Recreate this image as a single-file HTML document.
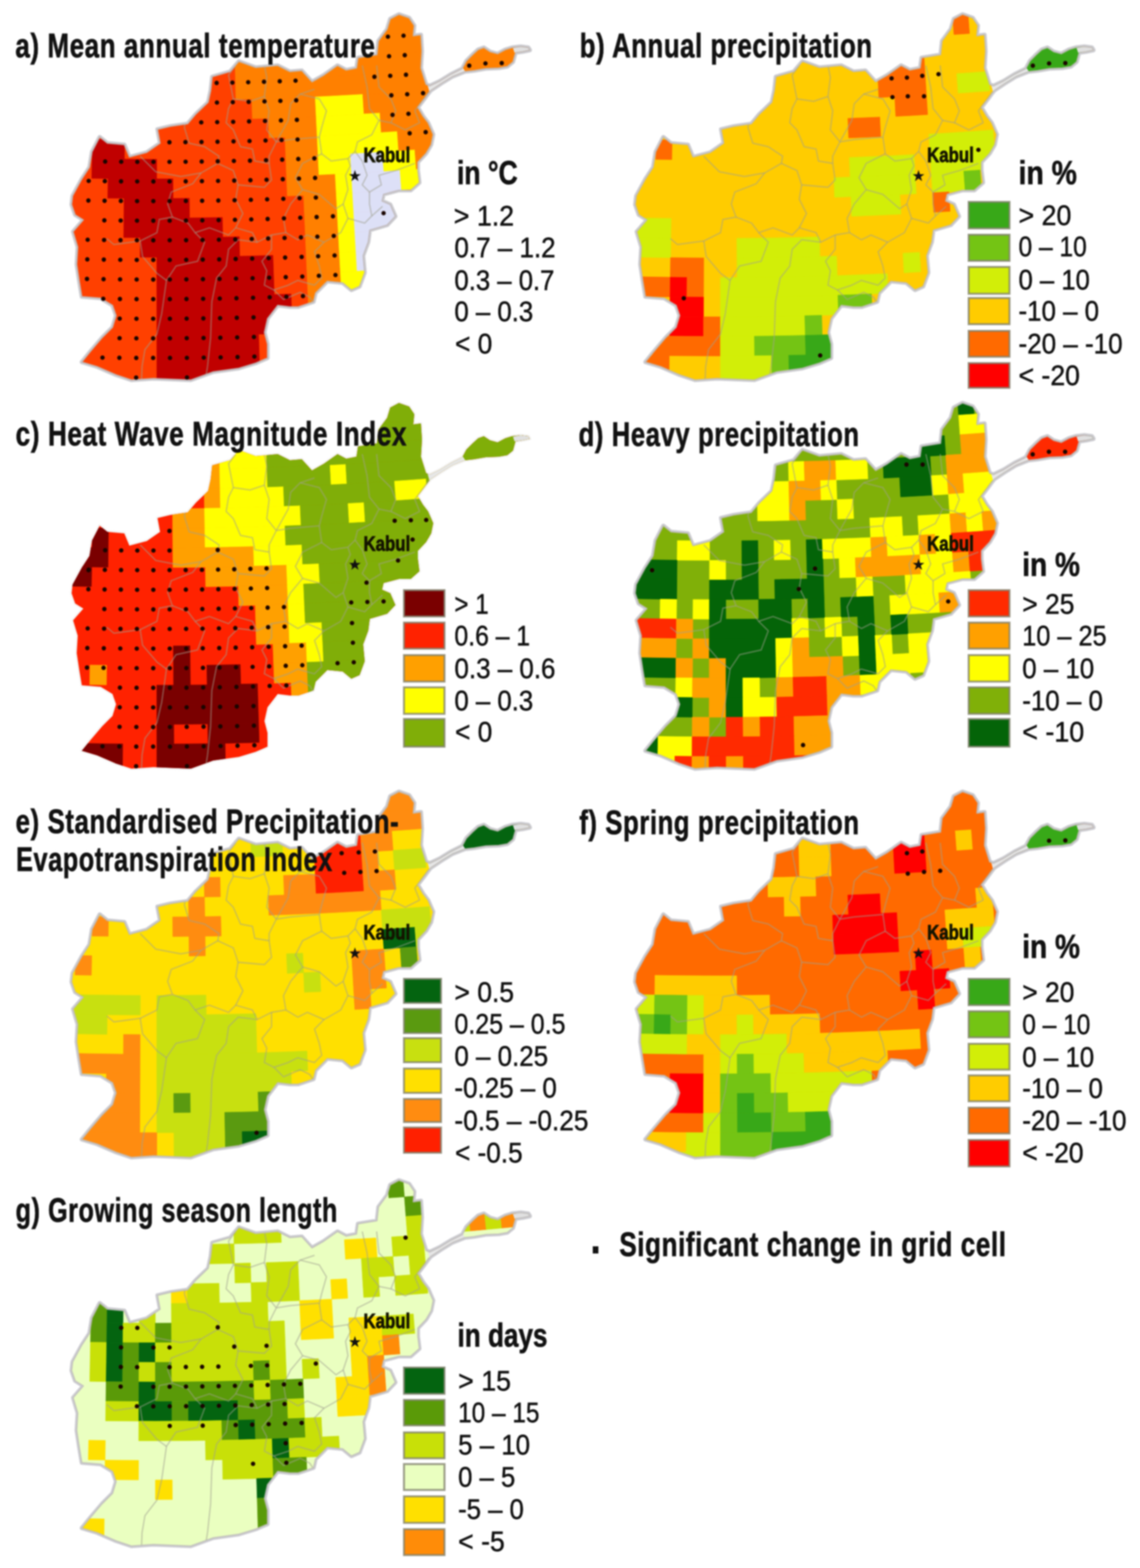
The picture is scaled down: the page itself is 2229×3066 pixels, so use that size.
<!DOCTYPE html>
<html lang="en"><head><meta charset="utf-8"><title>Afghanistan climate projections</title>
<style>html,body{margin:0;padding:0;background:#fff}body{width:2229px;height:3066px;overflow:hidden}svg{display:block;filter:blur(1.6px)}text{font-family:"Liberation Sans",sans-serif;fill:#111}.t{font-weight:700;stroke:#111;stroke-width:1.1px}.r{stroke:#111;stroke-width:0.9px}.k{font-weight:700;fill:#141400;stroke:#141400;stroke-width:1.4px}</style></head><body>
<svg width="2229" height="3066" viewBox="0 0 2229 3066">
<defs><clipPath id="af"><path d="M195,268 L210,280 L243,283 L253,307 L287,298 L313,280 L308,253 L333,247 L367,242 L383,223 L407,200 L412,177 L415,150 L450,140 L467,120 L500,132 L543,128 L567,140 L590,138 L610,160 L633,147 L660,128 L677,137 L697,133 L700,113 L737,107 L740,80 L757,57 L763,37 L780,28 L800,35 L810,50 L808,70 L823,68 L825,100 L823,133 L833,165 L840,168 L860,158.5 L882,145 L904,134 L912,119 L924,107 L935,97 L946,93 L958,101 L973,105 L988,97 L1001,93 L1018,91 L1033,93 L1036,98 L1022,101 L1008,103 L1006,110 L1003,121 L992,130 L975,133 L950,134 L927,138 L909,140 L885,149.5 L863,163 L842,177 L838,182 L830,193 L817,210 L827,227 L837,240 L847,263 L843,283 L833,300 L817,317 L817,333 L820,357 L803,372 L780,372 L750,380 L747,393 L763,400 L773,423 L757,440 L723,450 L720,473 L710,500 L713,533 L703,560 L687,567 L670,553 L640,550 L617,573 L613,590 L583,600 L567,600 L543,597 L523,623 L517,650 L523,673 L523,700 L500,710 L467,720 L417,727 L373,743 L300,740 L257,743 L227,733 L190,717 L160,708 L177,687 L200,660 L220,640 L227,617 L220,597 L197,583 L160,580 L155,550 L150,517 L152,483 L143,453 L163,430 L147,420 L140,400 L142,383 L160,350 L175,327 L180,297Z"/></clipPath>
<path id="ol" d="M195,268 L210,280 L243,283 L253,307 L287,298 L313,280 L308,253 L333,247 L367,242 L383,223 L407,200 L412,177 L415,150 L450,140 L467,120 L500,132 L543,128 L567,140 L590,138 L610,160 L633,147 L660,128 L677,137 L697,133 L700,113 L737,107 L740,80 L757,57 L763,37 L780,28 L800,35 L810,50 L808,70 L823,68 L825,100 L823,133 L833,165 L840,168 L860,158.5 L882,145 L904,134 L912,119 L924,107 L935,97 L946,93 L958,101 L973,105 L988,97 L1001,93 L1018,91 L1033,93 L1036,98 L1022,101 L1008,103 L1006,110 L1003,121 L992,130 L975,133 L950,134 L927,138 L909,140 L885,149.5 L863,163 L842,177 L838,182 L830,193 L817,210 L827,227 L837,240 L847,263 L843,283 L833,300 L817,317 L817,333 L820,357 L803,372 L780,372 L750,380 L747,393 L763,400 L773,423 L757,440 L723,450 L720,473 L710,500 L713,533 L703,560 L687,567 L670,553 L640,550 L617,573 L613,590 L583,600 L567,600 L543,597 L523,623 L517,650 L523,673 L523,700 L500,710 L467,720 L417,727 L373,743 L300,740 L257,743 L227,733 L190,717 L160,708 L177,687 L200,660 L220,640 L227,617 L220,597 L197,583 L160,580 L155,550 L150,517 L152,483 L143,453 L163,430 L147,420 L140,400 L142,383 L160,350 L175,327 L180,297Z"/>
<g id="pv" fill="none" stroke="#a0a090" stroke-width="2.8" stroke-opacity="0.5" stroke-linejoin="round">
<polyline points="274.1,305.5 281.1,312.5 304.4,335.8 353.5,345.1 393.2,338.1 425.8,319.5 428.2,305.5 400.2,286.8 369.8,279.8 360.5,249.4 362.8,235.4"/>
<polyline points="393.2,338.1 376.8,359.2 334.8,375.5 327.8,398.8 337.1,424.5 311.4,429.2 306.8,454.9 274.1,471.2 222.7,478.2 208.7,466.5"/>
<polyline points="337.1,424.5 367.5,436.2 381.5,454.9 409.5,445.5 446.9,459.5 460.9,445.5 493.6,454.9 502.9,473.6 530.9,459.5"/>
<polyline points="425.8,319.5 456.2,333.5 465.5,361.5 516.9,366.2 530.9,352.1 526.2,319.5 498.2,314.8 493.6,291.4 470.2,286.8 456.2,254.1 442.2,240.1 446.9,212.1 456.2,193.4 446.9,146.7 460.9,128"/>
<polyline points="456.2,193.4 488.9,198.1 516.9,188.7 521.6,151.4 516.9,128"/>
<polyline points="516.9,188.7 526.2,216.7 521.6,254.1 540.2,277.4 526.2,305.5 526.2,319.5"/>
<polyline points="540.2,277.4 568.3,272.8 624.3,268.1 629,249.4 638.3,216.7 624.3,193.4 586.9,184 568.3,202.7 563.6,235.4 540.2,277.4"/>
<polyline points="586.9,184 615,174.7"/>
<polyline points="624.3,268.1 629,300.8 647.6,314.8 680.3,310.1 694.3,296.1 699,277.4 727,263.4 741,235.4 722.4,212.1 717.7,170 708.3,128"/>
<polyline points="741,235.4 764.4,240.1 773.7,216.7 764.4,193.4 741,170 736.4,128"/>
<polyline points="764.4,240.1 792.4,254.1 820.4,240.1 811.1,216.7 839.1,179.4"/>
<polyline points="694.3,296.1 708.3,314.8 717.7,342.8 708.3,361.5 722.4,375.5 745.7,361.5 741,342.8 773.7,333.5 811.1,319.5"/>
<polyline points="629,300.8 591.6,319.5 577.6,347.5 591.6,370.8 568.3,398.8 554.3,426.9 558.9,454.9 530.9,459.5"/>
<polyline points="591.6,370.8 624.3,380.2 657,408.2 671,398.8 680.3,370.8 675.7,342.8 685,324.1 680.3,310.1"/>
<polyline points="671,398.8 680.3,426.9 666.3,454.9 633.6,473.6 615,492.2 624.3,520.2 629,543.6 615,557.6 582.3,548.3 563.6,557.6 535.6,566.9 516.9,557.6 521.6,529.6 512.2,510.9 530.9,487.6 530.9,459.5"/>
<polyline points="680.3,426.9 713,436.2 727,422.2 722.4,398.8 722.4,375.5"/>
<polyline points="633.6,473.6 600.9,459.5 582.3,468.9 558.9,454.9"/>
<polyline points="727,422.2 748,403.5"/>
<polyline points="465.5,361.5 460.9,389.5 474.9,417.5 460.9,445.5"/>
<polyline points="502.9,473.6 465.5,468.9 446.9,487.6 442.2,520.2 423.5,543.6 414.2,590.3 411.8,660.3 405.8,716.4 400.2,751.4"/>
<polyline points="381.5,454.9 400.2,473.6 386.2,510.9 344.1,520.2 325.5,548.3 316.1,613.6 306.8,653.3 283.4,683.7 277.8,716.4 276.4,751.4"/>
<polyline points="274.1,471.2 278.8,501.6 306.8,534.3 325.5,548.3"/>
<polyline points="535.6,566.9 554.3,585.6 586.9,571.6 605.6,580.9 615,595"/>
</g>
</defs>
<g transform="translate(0,0)">
<use href="#ol" fill="none" stroke="#cdcdd2" stroke-width="8.5" stroke-linejoin="round"/>
<g clip-path="url(#af)">
<rect x="100" y="0" width="960" height="770" fill="#ff4000"/>
<polygon points="699.8,31.8 730.1,30.1 760.4,28.2 790.7,26.1 820.9,24 851.2,21.7 854.5,59.8 824,62.1 793.6,64.3 763.1,66.3 732.6,68.2 702.2,70" fill="#ff8000" stroke="#ff8000" stroke-width="0.8"/>
<polygon points="702.2,70 732.6,68.2 763.1,66.3 793.6,64.3 824,62.1 854.5,59.8 857.8,97.9 827.1,100.2 796.5,102.4 765.8,104.5 735.2,106.4 704.5,108.2" fill="#ff8000" stroke="#ff8000" stroke-width="0.8"/>
<polygon points="459.4,117.9 490,117.2 520.7,116.3 551.3,115.3 582,114.1 612.6,112.8 643.3,111.4 673.9,109.9 704.5,108.2 735.2,106.4 765.8,104.5 796.5,102.4 827.1,100.2 857.8,97.9 888.4,95.4 919.1,92.9 949.7,90.1 980.4,87.3 1011,84.3 1041.7,81.2 1046,119.1 1015.2,122.2 984.4,125.2 953.5,128.1 922.7,130.9 891.9,133.5 861.1,136 830.2,138.3 799.4,140.6 768.6,142.7 737.8,144.6 706.9,146.4 676.1,148.1 645.3,149.7 614.4,151.1 583.6,152.4 552.8,153.5 522,154.6 491.1,155.5 460.3,156.2" fill="#ff8000" stroke="#ff8000" stroke-width="0.8"/>
<polygon points="460.3,156.2 491.1,155.5 522,154.6 552.8,153.5 583.6,152.4 614.4,151.1 645.3,149.7 676.1,148.1 706.9,146.4 737.8,144.6 768.6,142.7 799.4,140.6 830.2,138.3 861.1,136 891.9,133.5 922.7,130.9 953.5,128.1 984.4,125.2 1015.2,122.2 1046,119.1 1050.4,156.9 1019.4,160.1 988.4,163.2 957.4,166.1 926.4,168.9 895.4,171.5 864.3,174.1 833.3,176.4 802.3,178.7 771.3,180.8 740.3,182.8 709.3,184.6 678.3,186.3 647.3,187.9 616.3,189.4 585.3,190.7 554.3,191.8 523.3,192.9 492.2,193.8 461.2,194.5" fill="#ff8000" stroke="#ff8000" stroke-width="0.8"/>
<polygon points="492.2,193.8 523.3,192.9 554.3,191.8 585.3,190.7 616.3,189.4 618.1,227.6 586.9,228.9 555.7,230.1 524.6,231.2 493.4,232.1" fill="#ff8000" stroke="#ff8000" stroke-width="0.8"/>
<polygon points="616.3,189.4 647.3,187.9 678.3,186.3 709.3,184.6 711.7,222.8 680.5,224.6 649.3,226.2 618.1,227.6" fill="#ffff00" stroke="#ffff00" stroke-width="0.8"/>
<polygon points="709.3,184.6 740.3,182.8 771.3,180.8 802.3,178.7 833.3,176.4 864.3,174.1 895.4,171.5 926.4,168.9 957.4,166.1 988.4,163.2 1019.4,160.1 1050.4,156.9 1054.8,194.8 1023.6,198.1 992.4,201.1 961.2,204.1 930,206.9 898.8,209.6 867.6,212.1 836.4,214.6 805.2,216.8 774.1,219 742.9,221 711.7,222.8" fill="#ff8000" stroke="#ff8000" stroke-width="0.8"/>
<polygon points="524.6,231.2 555.7,230.1 586.9,228.9 618.1,227.6 620,265.9 588.6,267.2 557.2,268.4 525.9,269.5" fill="#ff8000" stroke="#ff8000" stroke-width="0.8"/>
<polygon points="618.1,227.6 649.3,226.2 680.5,224.6 711.7,222.8 742.9,221 745.4,259.2 714.1,261 682.7,262.8 651.3,264.4 620,265.9" fill="#ffff00" stroke="#ffff00" stroke-width="0.8"/>
<polygon points="742.9,221 774.1,219 805.2,216.8 836.4,214.6 867.6,212.1 898.8,209.6 930,206.9 961.2,204.1 992.4,201.1 1023.6,198.1 1054.8,194.8 1059.1,232.7 1027.7,236 996.4,239.1 965,242.1 933.6,244.9 902.3,247.6 870.9,250.2 839.5,252.7 808.2,255 776.8,257.1 745.4,259.2" fill="#ff8000" stroke="#ff8000" stroke-width="0.8"/>
<polygon points="180.8,272 212.2,272.5 243.5,272.8 243.2,311.2 211.7,310.8 180.1,310.4" fill="#c00000" stroke="#c00000" stroke-width="0.8"/>
<polygon points="557.2,268.4 588.6,267.2 620,265.9 621.8,304.1 590.2,305.5 558.7,306.7" fill="#ff8000" stroke="#ff8000" stroke-width="0.8"/>
<polygon points="620,265.9 651.3,264.4 682.7,262.8 714.1,261 745.4,259.2 776.8,257.1 779.5,295.3 748,297.3 716.4,299.2 684.9,301 653.3,302.6 621.8,304.1" fill="#ffff00" stroke="#ffff00" stroke-width="0.8"/>
<polygon points="776.8,257.1 808.2,255 839.5,252.7 870.9,250.2 902.3,247.6 933.6,244.9 965,242.1 996.4,239.1 1027.7,236 1059.1,232.7 1063.5,270.6 1031.9,273.9 1000.4,277 968.8,280.1 937.3,283 905.7,285.7 874.2,288.3 842.6,290.8 811.1,293.1 779.5,295.3" fill="#ff8000" stroke="#ff8000" stroke-width="0.8"/>
<polygon points="180.1,310.4 211.7,310.8 243.2,311.2 274.8,311.3 306.3,311.4 306.3,349.7 274.6,349.7 242.9,349.5 211.2,349.2 179.4,348.7" fill="#c00000" stroke="#c00000" stroke-width="0.8"/>
<polygon points="558.7,306.7 590.2,305.5 621.8,304.1 623.6,342.4 591.9,343.8 560.2,345" fill="#ff8000" stroke="#ff8000" stroke-width="0.8"/>
<polygon points="621.8,304.1 653.3,302.6 684.9,301 687.1,339.2 655.4,340.9 623.6,342.4" fill="#ffff00" stroke="#ffff00" stroke-width="0.8"/>
<polygon points="684.9,301 716.4,299.2 748,297.3 750.5,335.5 718.8,337.4 687.1,339.2" fill="#dde0f7" stroke="#dde0f7" stroke-width="0.8"/>
<polygon points="748,297.3 779.5,295.3 811.1,293.1 814,331.2 782.3,333.4 750.5,335.5" fill="#ffff00" stroke="#ffff00" stroke-width="0.8"/>
<polygon points="811.1,293.1 842.6,290.8 874.2,288.3 905.7,285.7 937.3,283 968.8,280.1 1000.4,277 1031.9,273.9 1063.5,270.6 1067.8,308.5 1036.1,311.8 1004.4,315 972.6,318 940.9,321 909.2,323.7 877.5,326.4 845.7,328.9 814,331.2" fill="#ff8000" stroke="#ff8000" stroke-width="0.8"/>
<polygon points="211.2,349.2 242.9,349.5 274.6,349.7 306.3,349.7 338.1,349.6 338.3,388 306.4,388.1 274.5,388 242.6,387.8 210.7,387.5" fill="#c00000" stroke="#c00000" stroke-width="0.8"/>
<polygon points="560.2,345 591.9,343.8 623.6,342.4 655.4,340.9 657.4,379.1 625.5,380.6 593.6,382 561.7,383.3" fill="#ff8000" stroke="#ff8000" stroke-width="0.8"/>
<polygon points="655.4,340.9 687.1,339.2 689.3,377.5 657.4,379.1" fill="#ffff00" stroke="#ffff00" stroke-width="0.8"/>
<polygon points="687.1,339.2 718.8,337.4 750.5,335.5 782.3,333.4 785,371.6 753.1,373.7 721.2,375.6 689.3,377.5" fill="#dde0f7" stroke="#dde0f7" stroke-width="0.8"/>
<polygon points="782.3,333.4 814,331.2 845.7,328.9 848.8,367 816.9,369.4 785,371.6" fill="#ffff00" stroke="#ffff00" stroke-width="0.8"/>
<polygon points="242.6,387.8 274.5,388 306.4,388.1 338.3,388 370.2,387.7 370.6,426.1 338.5,426.3 306.4,426.4 274.3,426.4 242.2,426.2" fill="#c00000" stroke="#c00000" stroke-width="0.8"/>
<polygon points="593.6,382 625.5,380.6 657.4,379.1 659.4,417.4 627.3,418.9 595.2,420.3" fill="#ff8000" stroke="#ff8000" stroke-width="0.8"/>
<polygon points="657.4,379.1 689.3,377.5 691.5,415.7 659.4,417.4" fill="#ffff00" stroke="#ffff00" stroke-width="0.8"/>
<polygon points="689.3,377.5 721.2,375.6 753.1,373.7 785,371.6 787.8,409.7 755.7,411.9 723.6,413.8 691.5,415.7" fill="#dde0f7" stroke="#dde0f7" stroke-width="0.8"/>
<polygon points="242.2,426.2 274.3,426.4 306.4,426.4 338.5,426.3 370.6,426.1 402.7,425.7 434.8,425.1 435.5,463.5 403.3,464 371,464.4 338.7,464.6 306.5,464.7 274.2,464.7 241.9,464.5" fill="#c00000" stroke="#c00000" stroke-width="0.8"/>
<polygon points="595.2,420.3 627.3,418.9 659.4,417.4 661.4,455.6 629.1,457.2 596.9,458.6" fill="#ff8000" stroke="#ff8000" stroke-width="0.8"/>
<polygon points="659.4,417.4 691.5,415.7 693.7,453.9 661.4,455.6" fill="#ffff00" stroke="#ffff00" stroke-width="0.8"/>
<polygon points="691.5,415.7 723.6,413.8 755.7,411.9 787.8,409.7 790.5,447.9 758.2,450 726,452 693.7,453.9" fill="#dde0f7" stroke="#dde0f7" stroke-width="0.8"/>
<polygon points="274.2,464.7 306.5,464.7 338.7,464.6 371,464.4 403.3,464 435.5,463.5 467.8,462.8 468.7,501.1 436.3,501.8 403.8,502.3 371.4,502.7 338.9,503 306.5,503.1 274,503" fill="#c00000" stroke="#c00000" stroke-width="0.8"/>
<polygon points="596.9,458.6 629.1,457.2 661.4,455.6 663.4,493.8 631,495.4 598.5,496.8" fill="#ff8000" stroke="#ff8000" stroke-width="0.8"/>
<polygon points="661.4,455.6 693.7,453.9 695.9,492.1 663.4,493.8" fill="#ffff00" stroke="#ffff00" stroke-width="0.8"/>
<polygon points="693.7,453.9 726,452 728.3,490.2 695.9,492.1" fill="#dde0f7" stroke="#dde0f7" stroke-width="0.8"/>
<polygon points="306.5,503.1 338.9,503 371.4,502.7 403.8,502.3 436.3,501.8 468.7,501.1 501.2,500.2 533.6,499.3 534.9,537.6 502.3,538.6 469.7,539.4 437,540.1 404.4,540.7 371.8,541.1 339.2,541.3 306.5,541.4" fill="#c00000" stroke="#c00000" stroke-width="0.8"/>
<polygon points="598.5,496.8 631,495.4 663.4,493.8 665.5,532.1 632.8,533.7 600.2,535.1" fill="#ff8000" stroke="#ff8000" stroke-width="0.8"/>
<polygon points="663.4,493.8 695.9,492.1 698.1,530.3 665.5,532.1" fill="#ffff00" stroke="#ffff00" stroke-width="0.8"/>
<polygon points="695.9,492.1 728.3,490.2 730.7,528.4 698.1,530.3" fill="#dde0f7" stroke="#dde0f7" stroke-width="0.8"/>
<polygon points="306.5,541.4 339.2,541.3 371.8,541.1 404.4,540.7 437,540.1 469.7,539.4 502.3,538.6 534.9,537.6 536.2,575.9 503.4,576.9 470.6,577.7 437.8,578.4 405,579 372.2,579.4 339.4,579.7 306.6,579.8" fill="#c00000" stroke="#c00000" stroke-width="0.8"/>
<polygon points="600.2,535.1 632.8,533.7 665.5,532.1 667.5,570.3 634.7,571.9 601.9,573.4" fill="#ff8000" stroke="#ff8000" stroke-width="0.8"/>
<polygon points="665.5,532.1 698.1,530.3 730.7,528.4 733.1,566.6 700.3,568.5 667.5,570.3" fill="#ffff00" stroke="#ffff00" stroke-width="0.8"/>
<polygon points="306.6,579.8 339.4,579.7 372.2,579.4 405,579 437.8,578.4 470.6,577.7 503.4,576.9 536.2,575.9 569,574.7 570.5,613 537.5,614.2 504.5,615.2 471.5,616 438.6,616.8 405.6,617.3 372.6,617.7 339.6,618 306.6,618.1" fill="#c00000" stroke="#c00000" stroke-width="0.8"/>
<polygon points="601.9,573.4 634.7,571.9 636.5,610.2 603.5,611.7" fill="#ff8000" stroke="#ff8000" stroke-width="0.8"/>
<polygon points="667.5,570.3 700.3,568.5 702.5,606.8 669.5,608.5" fill="#ffff00" stroke="#ffff00" stroke-width="0.8"/>
<polygon points="306.6,618.1 339.6,618 372.6,617.7 405.6,617.3 438.6,616.8 471.5,616 504.5,615.2 537.5,614.2 538.8,652.4 505.7,653.5 472.5,654.4 439.3,655.1 406.1,655.7 373,656.1 339.8,656.3 306.6,656.4" fill="#c00000" stroke="#c00000" stroke-width="0.8"/>
<polygon points="306.6,656.4 339.8,656.3 373,656.1 406.1,655.7 439.3,655.1 472.5,654.4 505.7,653.5 506.8,691.8 473.4,692.7 440.1,693.4 406.7,694 373.4,694.4 340,694.7 306.7,694.8" fill="#c00000" stroke="#c00000" stroke-width="0.8"/>
<polygon points="306.7,694.8 340,694.7 373.4,694.4 406.7,694 440.1,693.4 473.4,692.7 506.8,691.8 507.9,730.1 474.4,731 440.8,731.7 407.3,732.3 373.8,732.7 340.2,733 306.7,733.1" fill="#c00000" stroke="#c00000" stroke-width="0.8"/>
<polygon points="306.7,733.1 340.2,733 373.8,732.7 407.3,732.3 407.9,770.6 374.2,771.1 340.5,771.3 306.7,771.5" fill="#c00000" stroke="#c00000" stroke-width="0.8"/>
<polygon points="306.7,771.5 340.5,771.3 374.2,771.1 407.9,770.6 408.5,809 374.6,809.4 340.7,809.7 306.8,809.8" fill="#c00000" stroke="#c00000" stroke-width="0.8"/>
<use href="#pv"/>
<polygon points="836,166 860,156 904,131 911,142 863,166 840,181" fill="#e6e6e6"/>
<polygon points="1003,94 1018,91 1033,93 1036,98 1022,101 1006,103" fill="#e0e0e0"/>
</g>
<use href="#ol" fill="none" stroke="#bcb8b8" stroke-width="2.6" stroke-opacity="0.75" stroke-linejoin="round"/>
<g fill="#1a0500"><circle cx="758.5" cy="71.8" r="4.3"/><circle cx="789" cy="69.8" r="4.3"/><circle cx="760.7" cy="110" r="4.3"/><circle cx="791.4" cy="107.9" r="4.3"/><circle cx="423.6" cy="162.1" r="4.3"/><circle cx="454.4" cy="161.5" r="4.3"/><circle cx="485.3" cy="160.8" r="4.3"/><circle cx="516.2" cy="159.9" r="4.3"/><circle cx="547" cy="158.9" r="4.3"/><circle cx="577.9" cy="157.8" r="4.3"/><circle cx="732.1" cy="150.1" r="4.3"/><circle cx="763" cy="148.2" r="4.3"/><circle cx="793.8" cy="146.1" r="4.3"/><circle cx="424.2" cy="200.5" r="4.3"/><circle cx="455.2" cy="199.8" r="4.3"/><circle cx="486.2" cy="199.1" r="4.3"/><circle cx="517.2" cy="198.2" r="4.3"/><circle cx="548.2" cy="197.2" r="4.3"/><circle cx="579.2" cy="196.1" r="4.3"/><circle cx="765.2" cy="186.4" r="4.3"/><circle cx="796.2" cy="184.3" r="4.3"/><circle cx="827.2" cy="182.1" r="4.3"/><circle cx="393.5" cy="239.3" r="4.3"/><circle cx="424.7" cy="238.8" r="4.3"/><circle cx="455.9" cy="238.2" r="4.3"/><circle cx="487" cy="237.4" r="4.3"/><circle cx="518.2" cy="236.5" r="4.3"/><circle cx="549.3" cy="235.5" r="4.3"/><circle cx="580.5" cy="234.4" r="4.3"/><circle cx="767.5" cy="224.6" r="4.3"/><circle cx="798.6" cy="222.5" r="4.3"/><circle cx="331.3" cy="278.1" r="4.3"/><circle cx="362.6" cy="277.9" r="4.3"/><circle cx="394" cy="277.6" r="4.3"/><circle cx="425.3" cy="277.1" r="4.3"/><circle cx="456.6" cy="276.5" r="4.3"/><circle cx="487.9" cy="275.7" r="4.3"/><circle cx="519.2" cy="274.8" r="4.3"/><circle cx="550.5" cy="273.8" r="4.3"/><circle cx="581.8" cy="272.7" r="4.3"/><circle cx="801" cy="260.6" r="4.3"/><circle cx="832.3" cy="258.4" r="4.3"/><circle cx="205.6" cy="315.9" r="4.3"/><circle cx="237" cy="316.3" r="4.3"/><circle cx="268.5" cy="316.5" r="4.3"/><circle cx="300" cy="316.5" r="4.3"/><circle cx="331.4" cy="316.5" r="4.3"/><circle cx="362.9" cy="316.3" r="4.3"/><circle cx="394.4" cy="315.9" r="4.3"/><circle cx="425.8" cy="315.4" r="4.3"/><circle cx="457.3" cy="314.8" r="4.3"/><circle cx="488.8" cy="314.1" r="4.3"/><circle cx="520.2" cy="313.2" r="4.3"/><circle cx="551.7" cy="312.1" r="4.3"/><circle cx="583.2" cy="310.9" r="4.3"/><circle cx="614.6" cy="309.6" r="4.3"/><circle cx="173.4" cy="353.8" r="4.3"/><circle cx="205" cy="354.3" r="4.3"/><circle cx="236.7" cy="354.6" r="4.3"/><circle cx="268.3" cy="354.8" r="4.3"/><circle cx="299.9" cy="354.9" r="4.3"/><circle cx="331.5" cy="354.8" r="4.3"/><circle cx="363.1" cy="354.6" r="4.3"/><circle cx="394.8" cy="354.3" r="4.3"/><circle cx="426.4" cy="353.8" r="4.3"/><circle cx="458" cy="353.1" r="4.3"/><circle cx="489.6" cy="352.4" r="4.3"/><circle cx="521.2" cy="351.5" r="4.3"/><circle cx="552.9" cy="350.4" r="4.3"/><circle cx="584.5" cy="349.2" r="4.3"/><circle cx="616.1" cy="347.9" r="4.3"/><circle cx="172.8" cy="392.1" r="4.3"/><circle cx="204.5" cy="392.6" r="4.3"/><circle cx="236.3" cy="392.9" r="4.3"/><circle cx="268.1" cy="393.2" r="4.3"/><circle cx="299.8" cy="393.2" r="4.3"/><circle cx="331.6" cy="393.2" r="4.3"/><circle cx="363.4" cy="392.9" r="4.3"/><circle cx="395.2" cy="392.6" r="4.3"/><circle cx="426.9" cy="392.1" r="4.3"/><circle cx="458.7" cy="391.5" r="4.3"/><circle cx="490.5" cy="390.7" r="4.3"/><circle cx="522.3" cy="389.8" r="4.3"/><circle cx="554" cy="388.7" r="4.3"/><circle cx="585.8" cy="387.5" r="4.3"/><circle cx="617.6" cy="386.2" r="4.3"/><circle cx="204" cy="430.9" r="4.3"/><circle cx="235.9" cy="431.3" r="4.3"/><circle cx="267.9" cy="431.5" r="4.3"/><circle cx="299.8" cy="431.6" r="4.3"/><circle cx="331.7" cy="431.5" r="4.3"/><circle cx="363.6" cy="431.3" r="4.3"/><circle cx="395.6" cy="430.9" r="4.3"/><circle cx="427.5" cy="430.4" r="4.3"/><circle cx="459.4" cy="429.8" r="4.3"/><circle cx="491.3" cy="429" r="4.3"/><circle cx="523.3" cy="428.1" r="4.3"/><circle cx="555.2" cy="427" r="4.3"/><circle cx="587.1" cy="425.8" r="4.3"/><circle cx="619.1" cy="424.4" r="4.3"/><circle cx="651" cy="422.9" r="4.3"/><circle cx="171.4" cy="468.8" r="4.3"/><circle cx="203.5" cy="469.3" r="4.3"/><circle cx="235.6" cy="469.6" r="4.3"/><circle cx="267.7" cy="469.8" r="4.3"/><circle cx="299.7" cy="469.9" r="4.3"/><circle cx="331.8" cy="469.8" r="4.3"/><circle cx="363.9" cy="469.6" r="4.3"/><circle cx="396" cy="469.3" r="4.3"/><circle cx="428" cy="468.8" r="4.3"/><circle cx="460.1" cy="468.1" r="4.3"/><circle cx="492.2" cy="467.3" r="4.3"/><circle cx="524.3" cy="466.4" r="4.3"/><circle cx="556.4" cy="465.3" r="4.3"/><circle cx="588.4" cy="464.1" r="4.3"/><circle cx="620.5" cy="462.7" r="4.3"/><circle cx="652.6" cy="461.2" r="4.3"/><circle cx="170.7" cy="507.1" r="4.3"/><circle cx="203" cy="507.6" r="4.3"/><circle cx="235.2" cy="508" r="4.3"/><circle cx="267.4" cy="508.2" r="4.3"/><circle cx="299.7" cy="508.2" r="4.3"/><circle cx="331.9" cy="508.2" r="4.3"/><circle cx="364.1" cy="508" r="4.3"/><circle cx="396.4" cy="507.6" r="4.3"/><circle cx="428.6" cy="507.1" r="4.3"/><circle cx="460.8" cy="506.4" r="4.3"/><circle cx="493.1" cy="505.6" r="4.3"/><circle cx="525.3" cy="504.7" r="4.3"/><circle cx="557.5" cy="503.6" r="4.3"/><circle cx="589.8" cy="502.4" r="4.3"/><circle cx="622" cy="501" r="4.3"/><circle cx="654.2" cy="499.5" r="4.3"/><circle cx="170.1" cy="545.4" r="4.3"/><circle cx="202.5" cy="545.9" r="4.3"/><circle cx="234.8" cy="546.3" r="4.3"/><circle cx="267.2" cy="546.5" r="4.3"/><circle cx="299.6" cy="546.6" r="4.3"/><circle cx="332" cy="546.5" r="4.3"/><circle cx="364.4" cy="546.3" r="4.3"/><circle cx="396.8" cy="545.9" r="4.3"/><circle cx="429.2" cy="545.4" r="4.3"/><circle cx="461.5" cy="544.8" r="4.3"/><circle cx="493.9" cy="544" r="4.3"/><circle cx="526.3" cy="543" r="4.3"/><circle cx="558.7" cy="541.9" r="4.3"/><circle cx="591.1" cy="540.7" r="4.3"/><circle cx="623.5" cy="539.3" r="4.3"/><circle cx="655.9" cy="537.7" r="4.3"/><circle cx="201.9" cy="584.3" r="4.3"/><circle cx="234.5" cy="584.6" r="4.3"/><circle cx="267" cy="584.9" r="4.3"/><circle cx="299.6" cy="584.9" r="4.3"/><circle cx="332.1" cy="584.9" r="4.3"/><circle cx="364.6" cy="584.6" r="4.3"/><circle cx="397.2" cy="584.3" r="4.3"/><circle cx="429.7" cy="583.8" r="4.3"/><circle cx="462.3" cy="583.1" r="4.3"/><circle cx="494.8" cy="582.3" r="4.3"/><circle cx="527.3" cy="581.3" r="4.3"/><circle cx="559.9" cy="580.2" r="4.3"/><circle cx="592.4" cy="578.9" r="4.3"/><circle cx="234.1" cy="623" r="4.3"/><circle cx="266.8" cy="623.2" r="4.3"/><circle cx="299.5" cy="623.3" r="4.3"/><circle cx="332.2" cy="623.2" r="4.3"/><circle cx="364.9" cy="623" r="4.3"/><circle cx="397.6" cy="622.6" r="4.3"/><circle cx="430.3" cy="622.1" r="4.3"/><circle cx="463" cy="621.4" r="4.3"/><circle cx="495.7" cy="620.6" r="4.3"/><circle cx="233.8" cy="661.3" r="4.3"/><circle cx="266.6" cy="661.5" r="4.3"/><circle cx="299.4" cy="661.6" r="4.3"/><circle cx="332.3" cy="661.5" r="4.3"/><circle cx="365.1" cy="661.3" r="4.3"/><circle cx="398" cy="660.9" r="4.3"/><circle cx="430.8" cy="660.4" r="4.3"/><circle cx="463.7" cy="659.7" r="4.3"/><circle cx="496.5" cy="658.9" r="4.3"/><circle cx="200.4" cy="699.3" r="4.3"/><circle cx="233.4" cy="699.6" r="4.3"/><circle cx="266.4" cy="699.9" r="4.3"/><circle cx="299.4" cy="699.9" r="4.3"/><circle cx="332.4" cy="699.9" r="4.3"/><circle cx="365.4" cy="699.7" r="4.3"/><circle cx="398.4" cy="699.3" r="4.3"/><circle cx="431.4" cy="698.7" r="4.3"/><circle cx="464.4" cy="698.1" r="4.3"/><circle cx="497.4" cy="697.2" r="4.3"/><circle cx="266.2" cy="738.2" r="4.3"/><circle cx="365.6" cy="738" r="4.3"/><circle cx="917.5" cy="128.4" r="4.3"/><circle cx="949.2" cy="124" r="4.3"/><circle cx="981" cy="123.4" r="4.3"/><circle cx="750" cy="416.7" r="4.3"/></g>
<text class="k" x="710.7" y="317.4" font-size="40" textLength="91.4" lengthAdjust="spacingAndGlyphs">Kabul</text>
<text x="694" y="354" font-size="30" text-anchor="middle" style="font-family:'DejaVu Sans',sans-serif">★</text>
</g>
<g transform="translate(1102,0)">
<use href="#ol" fill="none" stroke="#cdcdd2" stroke-width="8.5" stroke-linejoin="round"/>
<g clip-path="url(#af)">
<rect x="100" y="0" width="960" height="770" fill="#ffcc00"/>
<polygon points="760.5,29.5 790.8,27.4 793.7,65.6 763.2,67.6" fill="#ff6a00" stroke="#ff6a00" stroke-width="0.8"/>
<polygon points="612.7,114.1 643.3,112.7 674,111.2 704.6,109.5 707,147.7 676.2,149.4 645.3,151 614.5,152.4" fill="#ff6a00" stroke="#ff6a00" stroke-width="0.8"/>
<polygon points="888.5,96.7 919.2,94.1 949.9,91.4 980.5,88.6 1011.2,85.6 1015.3,123.5 984.5,126.5 953.7,129.4 922.8,132.2 892,134.8" fill="#38a818" stroke="#38a818" stroke-width="0.8"/>
<polygon points="614.5,152.4 645.3,151 676.2,149.4 707,147.7 709.4,185.9 678.4,187.6 647.4,189.2 616.3,190.7" fill="#ff6a00" stroke="#ff6a00" stroke-width="0.8"/>
<polygon points="768.7,143.9 799.5,141.9 830.3,139.6 833.4,177.7 802.4,180 771.4,182.1" fill="#d2ee08" stroke="#d2ee08" stroke-width="0.8"/>
<polygon points="861.2,137.3 892,134.8 922.8,132.2 953.7,129.4 984.5,126.5 1015.3,123.5 1019.5,161.4 988.5,164.5 957.5,167.4 926.5,170.2 895.5,172.8 864.5,175.4" fill="#38a818" stroke="#38a818" stroke-width="0.8"/>
<polygon points="647.4,189.2 678.4,187.6 709.4,185.9 711.8,224.1 680.6,225.9 649.4,227.5" fill="#ff6a00" stroke="#ff6a00" stroke-width="0.8"/>
<polygon points="555.8,231.4 587,230.2 618.2,228.9 620,267.2 588.6,268.5 557.3,269.7" fill="#ff6a00" stroke="#ff6a00" stroke-width="0.8"/>
<polygon points="180.8,273.3 212.2,273.8 211.6,312.1 180.1,311.7" fill="#ff6a00" stroke="#ff6a00" stroke-width="0.8"/>
<polygon points="714.1,262.3 745.5,260.4 776.9,258.4 808.3,256.3 839.6,254 842.7,292.1 811.2,294.4 779.6,296.6 748.1,298.6 716.5,300.5" fill="#d2ee08" stroke="#d2ee08" stroke-width="0.8"/>
<polygon points="558.7,308 590.3,306.8 621.9,305.4 653.4,303.9 685,302.3 687.2,340.5 655.4,342.2 623.7,343.7 592,345.1 560.2,346.3" fill="#d2ee08" stroke="#d2ee08" stroke-width="0.8"/>
<polygon points="716.5,300.5 748.1,298.6 779.6,296.6 811.2,294.4 842.7,292.1 845.8,330.2 814.1,332.5 782.4,334.7 750.6,336.8 718.9,338.7" fill="#d2ee08" stroke="#d2ee08" stroke-width="0.8"/>
<polygon points="528.5,347.4 560.2,346.3 592,345.1 623.7,343.7 655.4,342.2 687.2,340.5 689.4,378.7 657.4,380.4 625.5,381.9 593.6,383.3 561.7,384.6 529.8,385.7" fill="#d2ee08" stroke="#d2ee08" stroke-width="0.8"/>
<polygon points="718.9,338.7 750.6,336.8 782.4,334.7 785.1,372.9 753.2,375 721.3,376.9" fill="#d2ee08" stroke="#d2ee08" stroke-width="0.8"/>
<polygon points="782.4,334.7 814.1,332.5 817,370.6 785.1,372.9" fill="#74c414" stroke="#74c414" stroke-width="0.8"/>
<polygon points="561.7,384.6 593.6,383.3 625.5,381.9 657.4,380.4 659.5,418.7 627.4,420.2 595.3,421.6 563.2,422.9" fill="#d2ee08" stroke="#d2ee08" stroke-width="0.8"/>
<polygon points="721.3,376.9 753.2,375 755.8,413.2 723.7,415.1" fill="#ff6a00" stroke="#ff6a00" stroke-width="0.8"/>
<polygon points="145.9,426 178,426.7 210.1,427.1 209.6,465.5 177.4,465 145.1,464.4" fill="#d2ee08" stroke="#d2ee08" stroke-width="0.8"/>
<polygon points="145.1,464.4 177.4,465 209.6,465.5 209.1,503.8 176.7,503.3 144.2,502.7" fill="#d2ee08" stroke="#d2ee08" stroke-width="0.8"/>
<polygon points="338.7,465.9 371,465.7 403.3,465.3 435.6,464.8 467.8,464.1 500.1,463.2 501.2,501.5 468.8,502.4 436.3,503.1 403.9,503.6 371.4,504 338.9,504.3" fill="#d2ee08" stroke="#d2ee08" stroke-width="0.8"/>
<polygon points="209.1,503.8 241.6,504.1 274,504.3 273.9,542.7 241.3,542.5 208.6,542.1" fill="#ff6a00" stroke="#ff6a00" stroke-width="0.8"/>
<polygon points="338.9,504.3 371.4,504 403.9,503.6 436.3,503.1 468.8,502.4 501.2,501.5 533.7,500.6 535,538.9 502.3,539.9 469.7,540.7 437.1,541.4 404.4,542 371.8,542.4 339.2,542.6" fill="#d2ee08" stroke="#d2ee08" stroke-width="0.8"/>
<polygon points="663.5,495.1 696,493.4 698.2,531.6 665.5,533.4" fill="#d2ee08" stroke="#d2ee08" stroke-width="0.8"/>
<polygon points="143.3,541 176,541.6 208.6,542.1 208.1,580.5 175.3,580 142.5,579.3" fill="#ff6a00" stroke="#ff6a00" stroke-width="0.8"/>
<polygon points="208.6,542.1 241.3,542.5 240.9,580.8 208.1,580.5" fill="#ff0000" stroke="#ff0000" stroke-width="0.8"/>
<polygon points="241.3,542.5 273.9,542.7 273.7,581 240.9,580.8" fill="#ff6a00" stroke="#ff6a00" stroke-width="0.8"/>
<polygon points="306.5,542.7 339.2,542.6 371.8,542.4 404.4,542 437.1,541.4 469.7,540.7 502.3,539.9 535,538.9 567.6,537.7 600.2,536.4 632.9,535 634.7,573.2 601.9,574.7 569.1,576 536.3,577.2 503.5,578.2 470.6,579 437.8,579.7 405,580.3 372.2,580.7 339.4,581 306.6,581.1" fill="#d2ee08" stroke="#d2ee08" stroke-width="0.8"/>
<polygon points="208.1,580.5 240.9,580.8 273.7,581 273.6,619.4 240.6,619.2 207.6,618.8" fill="#ff0000" stroke="#ff0000" stroke-width="0.8"/>
<polygon points="306.6,581.1 339.4,581 372.2,580.7 405,580.3 437.8,579.7 470.6,579 503.5,578.2 536.3,577.2 537.6,615.4 504.6,616.5 471.6,617.3 438.6,618.1 405.6,618.6 372.6,619 339.6,619.3 306.6,619.4" fill="#d2ee08" stroke="#d2ee08" stroke-width="0.8"/>
<polygon points="536.3,577.2 569.1,576 601.9,574.7 603.6,612.9 570.6,614.3 537.6,615.4" fill="#74c414" stroke="#74c414" stroke-width="0.8"/>
<polygon points="207.6,618.8 240.6,619.2 273.6,619.4 273.5,657.7 240.3,657.5 207.1,657.1" fill="#ff0000" stroke="#ff0000" stroke-width="0.8"/>
<polygon points="273.6,619.4 306.6,619.4 306.6,657.7 273.5,657.7" fill="#ff6a00" stroke="#ff6a00" stroke-width="0.8"/>
<polygon points="306.6,619.4 339.6,619.3 372.6,619 405.6,618.6 438.6,618.1 471.6,617.3 472.5,655.7 439.3,656.4 406.2,657 373,657.4 339.8,657.6 306.6,657.7" fill="#d2ee08" stroke="#d2ee08" stroke-width="0.8"/>
<polygon points="471.6,617.3 504.6,616.5 505.7,654.8 472.5,655.7" fill="#74c414" stroke="#74c414" stroke-width="0.8"/>
<polygon points="173.9,656.6 207.1,657.1 240.3,657.5 273.5,657.7 306.6,657.7 306.7,696.1 273.3,696 240,695.8 206.6,695.5 173.2,695" fill="#ff6a00" stroke="#ff6a00" stroke-width="0.8"/>
<polygon points="306.6,657.7 339.8,657.6 373,657.4 373.4,695.7 340,696 306.7,696.1" fill="#d2ee08" stroke="#d2ee08" stroke-width="0.8"/>
<polygon points="373,657.4 406.2,657 439.3,656.4 472.5,655.7 473.5,694 440.1,694.7 406.7,695.3 373.4,695.7" fill="#74c414" stroke="#74c414" stroke-width="0.8"/>
<polygon points="472.5,655.7 505.7,654.8 538.9,653.7 540.2,692 506.8,693.1 473.5,694" fill="#38a818" stroke="#38a818" stroke-width="0.8"/>
<polygon points="139.9,694.3 173.2,695 206.6,695.5 206.1,733.8 172.6,733.3 139,732.6" fill="#ff6a00" stroke="#ff6a00" stroke-width="0.8"/>
<polygon points="306.7,696.1 340,696 373.4,695.7 406.7,695.3 407.3,733.6 373.8,734 340.2,734.3 306.7,734.4" fill="#d2ee08" stroke="#d2ee08" stroke-width="0.8"/>
<polygon points="406.7,695.3 440.1,694.7 440.9,733 407.3,733.6" fill="#74c414" stroke="#74c414" stroke-width="0.8"/>
<polygon points="440.1,694.7 473.5,694 506.8,693.1 540.2,692 541.5,730.3 507.9,731.4 474.4,732.3 440.9,733" fill="#38a818" stroke="#38a818" stroke-width="0.8"/>
<polygon points="306.7,734.4 340.2,734.3 373.8,734 407.3,733.6 407.9,771.9 374.2,772.4 340.5,772.6 306.7,772.8" fill="#d2ee08" stroke="#d2ee08" stroke-width="0.8"/>
<polygon points="407.3,733.6 440.9,733 474.4,732.3 507.9,731.4 509,769.7 475.3,770.6 441.6,771.4 407.9,771.9" fill="#38a818" stroke="#38a818" stroke-width="0.8"/>
<polygon points="306.7,772.8 340.5,772.6 374.2,772.4 407.9,771.9 408.5,810.3 374.6,810.7 340.7,811 306.8,811.1" fill="#d2ee08" stroke="#d2ee08" stroke-width="0.8"/>
<use href="#pv"/>
<polygon points="836,166 860,156 904,131 911,142 863,166 840,181" fill="#e6e6e6"/>
<polygon points="1003,94 1018,91 1033,93 1036,98 1022,101 1006,103" fill="#e0e0e0"/>
</g>
<use href="#ol" fill="none" stroke="#bcb8b8" stroke-width="2.6" stroke-opacity="0.75" stroke-linejoin="round"/>
<g fill="#1a0500"><circle cx="917.5" cy="128.4" r="4.3"/><circle cx="949.2" cy="124" r="4.3"/><circle cx="981" cy="123.4" r="4.3"/><circle cx="641.3" cy="153.3" r="4.3"/><circle cx="671.3" cy="151.7" r="4.3"/><circle cx="701.3" cy="148.3" r="4.3"/><circle cx="733" cy="145" r="4.3"/><circle cx="643" cy="190" r="4.3"/><circle cx="673" cy="188.3" r="4.3"/><circle cx="704.7" cy="188.3" r="4.3"/><circle cx="235" cy="583.3" r="4.3"/><circle cx="501.7" cy="695" r="4.3"/><circle cx="811" cy="293" r="4.3"/></g>
<text class="k" x="710.7" y="317.4" font-size="40" textLength="91.4" lengthAdjust="spacingAndGlyphs">Kabul</text>
<text x="694" y="354" font-size="30" text-anchor="middle" style="font-family:'DejaVu Sans',sans-serif">★</text>
</g>
<g transform="translate(0,760)">
<use href="#ol" fill="none" stroke="#f3f3f3" stroke-width="6" stroke-linejoin="round"/>
<g clip-path="url(#af)">
<rect x="100" y="0" width="960" height="770" fill="#ff2200"/>
<polygon points="699.8,31.8 730.1,30.1 760.4,28.2 790.7,26.1 820.9,24 851.2,21.7 854.5,59.8 824,62.1 793.6,64.3 763.1,66.3 732.6,68.2 702.2,70" fill="#80ae08" stroke="#80ae08" stroke-width="0.8"/>
<polygon points="702.2,70 732.6,68.2 763.1,66.3 793.6,64.3 824,62.1 854.5,59.8 857.8,97.9 827.1,100.2 796.5,102.4 765.8,104.5 735.2,106.4 704.5,108.2" fill="#80ae08" stroke="#80ae08" stroke-width="0.8"/>
<polygon points="398.1,119 428.7,118.5 429.5,156.8 398.6,157.3" fill="#ffa000" stroke="#ffa000" stroke-width="0.8"/>
<polygon points="428.7,118.5 459.4,117.9 490,117.2 520.7,116.3 522,154.6 491.1,155.5 460.3,156.2 429.5,156.8" fill="#ffff00" stroke="#ffff00" stroke-width="0.8"/>
<polygon points="520.7,116.3 551.3,115.3 582,114.1 612.6,112.8 643.3,111.4 673.9,109.9 704.5,108.2 735.2,106.4 765.8,104.5 796.5,102.4 827.1,100.2 857.8,97.9 888.4,95.4 919.1,92.9 949.7,90.1 980.4,87.3 1011,84.3 1041.7,81.2 1046,119.1 1015.2,122.2 984.4,125.2 953.5,128.1 922.7,130.9 891.9,133.5 861.1,136 830.2,138.3 799.4,140.6 768.6,142.7 737.8,144.6 706.9,146.4 676.1,148.1 645.3,149.7 614.4,151.1 583.6,152.4 552.8,153.5 522,154.6" fill="#80ae08" stroke="#80ae08" stroke-width="0.8"/>
<polygon points="398.6,157.3 429.5,156.8 430.2,195.2 399.2,195.7" fill="#ffa000" stroke="#ffa000" stroke-width="0.8"/>
<polygon points="429.5,156.8 460.3,156.2 491.1,155.5 522,154.6 523.3,192.9 492.2,193.8 461.2,194.5 430.2,195.2" fill="#ffff00" stroke="#ffff00" stroke-width="0.8"/>
<polygon points="522,154.6 552.8,153.5 583.6,152.4 614.4,151.1 645.3,149.7 647.3,187.9 616.3,189.4 585.3,190.7 554.3,191.8 523.3,192.9" fill="#80ae08" stroke="#80ae08" stroke-width="0.8"/>
<polygon points="645.3,149.7 676.1,148.1 678.3,186.3 647.3,187.9" fill="#ffff00" stroke="#ffff00" stroke-width="0.8"/>
<polygon points="676.1,148.1 706.9,146.4 737.8,144.6 768.6,142.7 799.4,140.6 830.2,138.3 861.1,136 891.9,133.5 922.7,130.9 953.5,128.1 984.4,125.2 1015.2,122.2 1046,119.1 1050.4,156.9 1019.4,160.1 988.4,163.2 957.4,166.1 926.4,168.9 895.4,171.5 864.3,174.1 833.3,176.4 802.3,178.7 771.3,180.8 740.3,182.8 709.3,184.6 678.3,186.3" fill="#80ae08" stroke="#80ae08" stroke-width="0.8"/>
<polygon points="399.2,195.7 430.2,195.2 431,233.5 399.8,234" fill="#ffa000" stroke="#ffa000" stroke-width="0.8"/>
<polygon points="430.2,195.2 461.2,194.5 492.2,193.8 523.3,192.9 554.3,191.8 555.7,230.1 524.6,231.2 493.4,232.1 462.2,232.9 431,233.5" fill="#ffff00" stroke="#ffff00" stroke-width="0.8"/>
<polygon points="554.3,191.8 585.3,190.7 616.3,189.4 647.3,187.9 678.3,186.3 709.3,184.6 740.3,182.8 771.3,180.8 774.1,219 742.9,221 711.7,222.8 680.5,224.6 649.3,226.2 618.1,227.6 586.9,228.9 555.7,230.1" fill="#80ae08" stroke="#80ae08" stroke-width="0.8"/>
<polygon points="771.3,180.8 802.3,178.7 833.3,176.4 836.4,214.6 805.2,216.8 774.1,219" fill="#ffff00" stroke="#ffff00" stroke-width="0.8"/>
<polygon points="833.3,176.4 864.3,174.1 895.4,171.5 926.4,168.9 957.4,166.1 988.4,163.2 1019.4,160.1 1050.4,156.9 1054.8,194.8 1023.6,198.1 992.4,201.1 961.2,204.1 930,206.9 898.8,209.6 867.6,212.1 836.4,214.6" fill="#80ae08" stroke="#80ae08" stroke-width="0.8"/>
<polygon points="337.4,234.6 368.6,234.4 399.8,234 400.4,272.3 369,272.7 337.6,272.9" fill="#ffa000" stroke="#ffa000" stroke-width="0.8"/>
<polygon points="399.8,234 431,233.5 462.2,232.9 493.4,232.1 524.6,231.2 555.7,230.1 586.9,228.9 588.6,267.2 557.2,268.4 525.9,269.5 494.5,270.4 463.1,271.2 431.7,271.8 400.4,272.3" fill="#ffff00" stroke="#ffff00" stroke-width="0.8"/>
<polygon points="586.9,228.9 618.1,227.6 649.3,226.2 680.5,224.6 682.7,262.8 651.3,264.4 620,265.9 588.6,267.2" fill="#80ae08" stroke="#80ae08" stroke-width="0.8"/>
<polygon points="680.5,224.6 711.7,222.8 714.1,261 682.7,262.8" fill="#ffff00" stroke="#ffff00" stroke-width="0.8"/>
<polygon points="711.7,222.8 742.9,221 774.1,219 805.2,216.8 836.4,214.6 867.6,212.1 898.8,209.6 930,206.9 961.2,204.1 992.4,201.1 1023.6,198.1 1054.8,194.8 1059.1,232.7 1027.7,236 996.4,239.1 965,242.1 933.6,244.9 902.3,247.6 870.9,250.2 839.5,252.7 808.2,255 776.8,257.1 745.4,259.2 714.1,261" fill="#80ae08" stroke="#80ae08" stroke-width="0.8"/>
<polygon points="180.8,272 212.2,272.5 211.7,310.8 180.1,310.4" fill="#7a0000" stroke="#7a0000" stroke-width="0.8"/>
<polygon points="337.6,272.9 369,272.7 400.4,272.3 401,310.7 369.4,311 337.9,311.3" fill="#ffa000" stroke="#ffa000" stroke-width="0.8"/>
<polygon points="400.4,272.3 431.7,271.8 463.1,271.2 494.5,270.4 525.9,269.5 557.2,268.4 558.7,306.7 527.1,307.8 495.6,308.7 464.1,309.5 432.5,310.2 401,310.7" fill="#ffff00" stroke="#ffff00" stroke-width="0.8"/>
<polygon points="557.2,268.4 588.6,267.2 620,265.9 651.3,264.4 682.7,262.8 714.1,261 745.4,259.2 776.8,257.1 808.2,255 839.5,252.7 870.9,250.2 902.3,247.6 933.6,244.9 965,242.1 996.4,239.1 1027.7,236 1059.1,232.7 1063.5,270.6 1031.9,273.9 1000.4,277 968.8,280.1 937.3,283 905.7,285.7 874.2,288.3 842.6,290.8 811.1,293.1 779.5,295.3 748,297.3 716.4,299.2 684.9,301 653.3,302.6 621.8,304.1 590.2,305.5 558.7,306.7" fill="#80ae08" stroke="#80ae08" stroke-width="0.8"/>
<polygon points="148.6,309.8 180.1,310.4 211.7,310.8 211.2,349.2 179.4,348.7 147.7,348.1" fill="#7a0000" stroke="#7a0000" stroke-width="0.8"/>
<polygon points="337.9,311.3 369.4,311 401,310.7 432.5,310.2 464.1,309.5 495.6,308.7 496.7,347 465,347.8 433.3,348.5 401.5,349 369.8,349.4 338.1,349.6" fill="#ffa000" stroke="#ffa000" stroke-width="0.8"/>
<polygon points="495.6,308.7 527.1,307.8 558.7,306.7 590.2,305.5 591.9,343.8 560.2,345 528.4,346.1 496.7,347" fill="#ffff00" stroke="#ffff00" stroke-width="0.8"/>
<polygon points="590.2,305.5 621.8,304.1 653.3,302.6 684.9,301 716.4,299.2 748,297.3 779.5,295.3 811.1,293.1 842.6,290.8 874.2,288.3 905.7,285.7 937.3,283 968.8,280.1 1000.4,277 1031.9,273.9 1063.5,270.6 1067.8,308.5 1036.1,311.8 1004.4,315 972.6,318 940.9,321 909.2,323.7 877.5,326.4 845.7,328.9 814,331.2 782.3,333.4 750.5,335.5 718.8,337.4 687.1,339.2 655.4,340.9 623.6,342.4 591.9,343.8" fill="#80ae08" stroke="#80ae08" stroke-width="0.8"/>
<polygon points="116,347.3 147.7,348.1 179.4,348.7 178.7,387 146.8,386.4 114.9,385.7" fill="#7a0000" stroke="#7a0000" stroke-width="0.8"/>
<polygon points="401.5,349 433.3,348.5 465,347.8 496.7,347 528.4,346.1 560.2,345 561.7,383.3 529.7,384.4 497.8,385.3 465.9,386.1 434,386.8 402.1,387.3" fill="#ffa000" stroke="#ffa000" stroke-width="0.8"/>
<polygon points="560.2,345 591.9,343.8 623.6,342.4 625.5,380.6 593.6,382 561.7,383.3" fill="#ffff00" stroke="#ffff00" stroke-width="0.8"/>
<polygon points="623.6,342.4 655.4,340.9 687.1,339.2 718.8,337.4 750.5,335.5 782.3,333.4 814,331.2 845.7,328.9 877.5,326.4 909.2,323.7 940.9,321 972.6,318 1004.4,315 1036.1,311.8 1067.8,308.5 1072.2,346.3 1040.3,349.7 1008.4,352.9 976.5,356 944.6,359 912.7,361.8 880.7,364.5 848.8,367 816.9,369.4 785,371.6 753.1,373.7 721.2,375.6 689.3,377.5 657.4,379.1 625.5,380.6" fill="#80ae08" stroke="#80ae08" stroke-width="0.8"/>
<polygon points="465.9,386.1 497.8,385.3 529.7,384.4 561.7,383.3 563.1,421.6 531,422.7 499,423.6 466.9,424.5" fill="#ffa000" stroke="#ffa000" stroke-width="0.8"/>
<polygon points="561.7,383.3 593.6,382 595.2,420.3 563.1,421.6" fill="#ffff00" stroke="#ffff00" stroke-width="0.8"/>
<polygon points="593.6,382 625.5,380.6 657.4,379.1 689.3,377.5 721.2,375.6 753.1,373.7 785,371.6 816.9,369.4 848.8,367 880.7,364.5 912.7,361.8 944.6,359 976.5,356 1008.4,352.9 1040.3,349.7 1072.2,346.3 1076.6,384.2 1044.5,387.6 1012.4,390.9 980.3,394 948.2,397 916.1,399.8 884,402.5 851.9,405.1 819.8,407.5 787.8,409.7 755.7,411.9 723.6,413.8 691.5,415.7 659.4,417.4 627.3,418.9 595.2,420.3" fill="#80ae08" stroke="#80ae08" stroke-width="0.8"/>
<polygon points="499,423.6 531,422.7 563.1,421.6 564.6,459.8 532.3,461 500.1,461.9" fill="#ffa000" stroke="#ffa000" stroke-width="0.8"/>
<polygon points="563.1,421.6 595.2,420.3 596.9,458.6 564.6,459.8" fill="#ffff00" stroke="#ffff00" stroke-width="0.8"/>
<polygon points="595.2,420.3 627.3,418.9 659.4,417.4 691.5,415.7 723.6,413.8 755.7,411.9 787.8,409.7 819.8,407.5 851.9,405.1 884,402.5 916.1,399.8 948.2,397 980.3,394 1012.4,390.9 1044.5,387.6 1076.6,384.2 1080.9,422.1 1048.6,425.5 1016.4,428.8 984.1,432 951.8,435 919.6,437.9 887.3,440.6 855,443.2 822.8,445.6 790.5,447.9 758.2,450 726,452 693.7,453.9 661.4,455.6 629.1,457.2 596.9,458.6" fill="#80ae08" stroke="#80ae08" stroke-width="0.8"/>
<polygon points="500.1,461.9 532.3,461 564.6,459.8 566.1,498.1 533.6,499.3 501.2,500.2" fill="#ffa000" stroke="#ffa000" stroke-width="0.8"/>
<polygon points="564.6,459.8 596.9,458.6 629.1,457.2 631,495.4 598.5,496.8 566.1,498.1" fill="#ffff00" stroke="#ffff00" stroke-width="0.8"/>
<polygon points="629.1,457.2 661.4,455.6 693.7,453.9 726,452 758.2,450 790.5,447.9 822.8,445.6 855,443.2 887.3,440.6 919.6,437.9 951.8,435 984.1,432 1016.4,428.8 1048.6,425.5 1080.9,422.1 1085.3,459.9 1052.8,463.4 1020.4,466.8 987.9,470 955.5,473 923,475.9 890.6,478.7 858.1,481.3 825.7,483.7 793.2,486.1 760.8,488.2 728.3,490.2 695.9,492.1 663.4,493.8 631,495.4" fill="#80ae08" stroke="#80ae08" stroke-width="0.8"/>
<polygon points="338.9,503 371.4,502.7 371.8,541.1 339.2,541.3" fill="#7a0000" stroke="#7a0000" stroke-width="0.8"/>
<polygon points="533.6,499.3 566.1,498.1 598.5,496.8 600.2,535.1 567.6,536.4 534.9,537.6" fill="#ffa000" stroke="#ffa000" stroke-width="0.8"/>
<polygon points="598.5,496.8 631,495.4 632.8,533.7 600.2,535.1" fill="#ffff00" stroke="#ffff00" stroke-width="0.8"/>
<polygon points="631,495.4 663.4,493.8 695.9,492.1 728.3,490.2 760.8,488.2 793.2,486.1 825.7,483.7 858.1,481.3 890.6,478.7 923,475.9 955.5,473 987.9,470 1020.4,466.8 1052.8,463.4 1085.3,459.9 1089.6,497.8 1057,501.3 1024.4,504.7 991.7,507.9 959.1,511 926.5,513.9 893.9,516.7 861.2,519.4 828.6,521.9 796,524.2 763.3,526.4 730.7,528.4 698.1,530.3 665.5,532.1 632.8,533.7" fill="#80ae08" stroke="#80ae08" stroke-width="0.8"/>
<polygon points="176,540.3 208.6,540.8 208.1,579.2 175.3,578.7" fill="#ffa000" stroke="#ffa000" stroke-width="0.8"/>
<polygon points="339.2,541.3 371.8,541.1 372.2,579.4 339.4,579.7" fill="#7a0000" stroke="#7a0000" stroke-width="0.8"/>
<polygon points="404.4,540.7 437,540.1 469.7,539.4 470.6,577.7 437.8,578.4 405,579" fill="#7a0000" stroke="#7a0000" stroke-width="0.8"/>
<polygon points="534.9,537.6 567.6,536.4 600.2,535.1 601.9,573.4 569,574.7 536.2,575.9" fill="#ffa000" stroke="#ffa000" stroke-width="0.8"/>
<polygon points="600.2,535.1 632.8,533.7 665.5,532.1 698.1,530.3 730.7,528.4 763.3,526.4 796,524.2 828.6,521.9 861.2,519.4 893.9,516.7 926.5,513.9 959.1,511 991.7,507.9 1024.4,504.7 1057,501.3 1089.6,497.8 1094,535.6 1061.2,539.2 1028.4,542.6 995.6,545.9 962.8,549 929.9,552 897.1,554.8 864.3,557.5 831.5,560 798.7,562.4 765.9,564.6 733.1,566.6 700.3,568.5 667.5,570.3 634.7,571.9 601.9,573.4" fill="#80ae08" stroke="#80ae08" stroke-width="0.8"/>
<polygon points="306.6,579.8 339.4,579.7 372.2,579.4 405,579 437.8,578.4 470.6,577.7 503.4,576.9 504.5,615.2 471.5,616 438.6,616.8 405.6,617.3 372.6,617.7 339.6,618 306.6,618.1" fill="#7a0000" stroke="#7a0000" stroke-width="0.8"/>
<polygon points="569,574.7 601.9,573.4 603.5,611.7 570.5,613" fill="#ffa000" stroke="#ffa000" stroke-width="0.8"/>
<polygon points="601.9,573.4 634.7,571.9 667.5,570.3 700.3,568.5 733.1,566.6 765.9,564.6 798.7,562.4 831.5,560 864.3,557.5 897.1,554.8 929.9,552 962.8,549 995.6,545.9 1028.4,542.6 1061.2,539.2 1094,535.6 1098.4,573.5 1065.4,577.1 1032.4,580.6 999.4,583.9 966.4,587 933.4,590 900.4,592.9 867.4,595.6 834.4,598.1 801.4,600.5 768.5,602.7 735.5,604.8 702.5,606.8 669.5,608.5 636.5,610.2 603.5,611.7" fill="#80ae08" stroke="#80ae08" stroke-width="0.8"/>
<polygon points="306.6,618.1 339.6,618 372.6,617.7 405.6,617.3 438.6,616.8 471.5,616 504.5,615.2 505.7,653.5 472.5,654.4 439.3,655.1 406.1,655.7 373,656.1 339.8,656.3 306.6,656.4" fill="#7a0000" stroke="#7a0000" stroke-width="0.8"/>
<polygon points="306.6,656.4 339.8,656.3 340,694.7 306.7,694.8" fill="#7a0000" stroke="#7a0000" stroke-width="0.8"/>
<polygon points="406.1,655.7 439.3,655.1 472.5,654.4 505.7,653.5 506.8,691.8 473.4,692.7 440.1,693.4 406.7,694" fill="#7a0000" stroke="#7a0000" stroke-width="0.8"/>
<polygon points="106.6,692.2 139.9,693 173.3,693.7 206.6,694.2 240,694.5 239.6,732.9 206.1,732.5 172.6,732 139.1,731.3 105.5,730.5" fill="#7a0000" stroke="#7a0000" stroke-width="0.8"/>
<polygon points="306.7,694.8 340,694.7 373.4,694.4 406.7,694 440.1,693.4 440.8,731.7 407.3,732.3 373.8,732.7 340.2,733 306.7,733.1" fill="#7a0000" stroke="#7a0000" stroke-width="0.8"/>
<polygon points="105.5,730.5 139.1,731.3 172.6,732 206.1,732.5 239.6,732.9 239.3,771.2 205.6,770.8 171.9,770.3 138.2,769.6 104.5,768.8" fill="#7a0000" stroke="#7a0000" stroke-width="0.8"/>
<polygon points="306.7,733.1 340.2,733 373.8,732.7 407.3,732.3 440.8,731.7 441.6,770.1 407.9,770.6 374.2,771.1 340.5,771.3 306.7,771.5" fill="#7a0000" stroke="#7a0000" stroke-width="0.8"/>
<polygon points="104.5,768.8 138.2,769.6 171.9,770.3 205.6,770.8 239.3,771.2 273,771.4 306.7,771.5 340.5,771.3 374.2,771.1 407.9,770.6 441.6,770.1 442.3,808.4 408.5,809 374.6,809.4 340.7,809.7 306.8,809.8 272.9,809.7 239,809.5 205.1,809.2 171.2,808.6 137.3,807.9 103.4,807.1" fill="#7a0000" stroke="#7a0000" stroke-width="0.8"/>
<use href="#pv"/>
<polygon points="836,166 860,156 904,131 911,142 863,166 840,181" fill="#e6e6e6"/>
<polygon points="1003,94 1018,91 1033,93 1036,98 1022,101 1006,103" fill="#e0e0e0"/>
</g>
<g fill="#1a0500"><circle cx="331.3" cy="278.1" r="4.3"/><circle cx="205.6" cy="315.9" r="4.3"/><circle cx="237" cy="316.3" r="4.3"/><circle cx="268.5" cy="316.5" r="4.3"/><circle cx="300" cy="316.5" r="4.3"/><circle cx="331.4" cy="316.5" r="4.3"/><circle cx="425.8" cy="315.4" r="4.3"/><circle cx="173.4" cy="353.8" r="4.3"/><circle cx="205" cy="354.3" r="4.3"/><circle cx="236.7" cy="354.6" r="4.3"/><circle cx="268.3" cy="354.8" r="4.3"/><circle cx="299.9" cy="354.9" r="4.3"/><circle cx="331.5" cy="354.8" r="4.3"/><circle cx="363.1" cy="354.6" r="4.3"/><circle cx="394.8" cy="354.3" r="4.3"/><circle cx="426.4" cy="353.8" r="4.3"/><circle cx="458" cy="353.1" r="4.3"/><circle cx="489.6" cy="352.4" r="4.3"/><circle cx="521.2" cy="351.5" r="4.3"/><circle cx="172.8" cy="392.1" r="4.3"/><circle cx="204.5" cy="392.6" r="4.3"/><circle cx="236.3" cy="392.9" r="4.3"/><circle cx="268.1" cy="393.2" r="4.3"/><circle cx="299.8" cy="393.2" r="4.3"/><circle cx="331.6" cy="393.2" r="4.3"/><circle cx="363.4" cy="392.9" r="4.3"/><circle cx="395.2" cy="392.6" r="4.3"/><circle cx="426.9" cy="392.1" r="4.3"/><circle cx="458.7" cy="391.5" r="4.3"/><circle cx="490.5" cy="390.7" r="4.3"/><circle cx="522.3" cy="389.8" r="4.3"/><circle cx="204" cy="430.9" r="4.3"/><circle cx="235.9" cy="431.3" r="4.3"/><circle cx="267.9" cy="431.5" r="4.3"/><circle cx="299.8" cy="431.6" r="4.3"/><circle cx="331.7" cy="431.5" r="4.3"/><circle cx="363.6" cy="431.3" r="4.3"/><circle cx="395.6" cy="430.9" r="4.3"/><circle cx="427.5" cy="430.4" r="4.3"/><circle cx="459.4" cy="429.8" r="4.3"/><circle cx="491.3" cy="429" r="4.3"/><circle cx="523.3" cy="428.1" r="4.3"/><circle cx="555.2" cy="427" r="4.3"/><circle cx="171.4" cy="468.8" r="4.3"/><circle cx="203.5" cy="469.3" r="4.3"/><circle cx="235.6" cy="469.6" r="4.3"/><circle cx="267.7" cy="469.8" r="4.3"/><circle cx="299.7" cy="469.9" r="4.3"/><circle cx="331.8" cy="469.8" r="4.3"/><circle cx="363.9" cy="469.6" r="4.3"/><circle cx="396" cy="469.3" r="4.3"/><circle cx="428" cy="468.8" r="4.3"/><circle cx="460.1" cy="468.1" r="4.3"/><circle cx="492.2" cy="467.3" r="4.3"/><circle cx="524.3" cy="466.4" r="4.3"/><circle cx="556.4" cy="465.3" r="4.3"/><circle cx="170.7" cy="507.1" r="4.3"/><circle cx="203" cy="507.6" r="4.3"/><circle cx="235.2" cy="508" r="4.3"/><circle cx="267.4" cy="508.2" r="4.3"/><circle cx="299.7" cy="508.2" r="4.3"/><circle cx="331.9" cy="508.2" r="4.3"/><circle cx="364.1" cy="508" r="4.3"/><circle cx="396.4" cy="507.6" r="4.3"/><circle cx="428.6" cy="507.1" r="4.3"/><circle cx="460.8" cy="506.4" r="4.3"/><circle cx="493.1" cy="505.6" r="4.3"/><circle cx="525.3" cy="504.7" r="4.3"/><circle cx="557.5" cy="503.6" r="4.3"/><circle cx="589.8" cy="502.4" r="4.3"/><circle cx="170.1" cy="545.4" r="4.3"/><circle cx="202.5" cy="545.9" r="4.3"/><circle cx="234.8" cy="546.3" r="4.3"/><circle cx="267.2" cy="546.5" r="4.3"/><circle cx="299.6" cy="546.6" r="4.3"/><circle cx="332" cy="546.5" r="4.3"/><circle cx="364.4" cy="546.3" r="4.3"/><circle cx="396.8" cy="545.9" r="4.3"/><circle cx="429.2" cy="545.4" r="4.3"/><circle cx="461.5" cy="544.8" r="4.3"/><circle cx="493.9" cy="544" r="4.3"/><circle cx="526.3" cy="543" r="4.3"/><circle cx="558.7" cy="541.9" r="4.3"/><circle cx="591.1" cy="540.7" r="4.3"/><circle cx="234.5" cy="584.6" r="4.3"/><circle cx="267" cy="584.9" r="4.3"/><circle cx="299.6" cy="584.9" r="4.3"/><circle cx="332.1" cy="584.9" r="4.3"/><circle cx="364.6" cy="584.6" r="4.3"/><circle cx="397.2" cy="584.3" r="4.3"/><circle cx="429.7" cy="583.8" r="4.3"/><circle cx="462.3" cy="583.1" r="4.3"/><circle cx="494.8" cy="582.3" r="4.3"/><circle cx="527.3" cy="581.3" r="4.3"/><circle cx="559.9" cy="580.2" r="4.3"/><circle cx="234.1" cy="623" r="4.3"/><circle cx="266.8" cy="623.2" r="4.3"/><circle cx="299.5" cy="623.3" r="4.3"/><circle cx="332.2" cy="623.2" r="4.3"/><circle cx="364.9" cy="623" r="4.3"/><circle cx="397.6" cy="622.6" r="4.3"/><circle cx="430.3" cy="622.1" r="4.3"/><circle cx="463" cy="621.4" r="4.3"/><circle cx="495.7" cy="620.6" r="4.3"/><circle cx="233.8" cy="661.3" r="4.3"/><circle cx="266.6" cy="661.5" r="4.3"/><circle cx="299.4" cy="661.6" r="4.3"/><circle cx="332.3" cy="661.5" r="4.3"/><circle cx="365.1" cy="661.3" r="4.3"/><circle cx="398" cy="660.9" r="4.3"/><circle cx="430.8" cy="660.4" r="4.3"/><circle cx="463.7" cy="659.7" r="4.3"/><circle cx="496.5" cy="658.9" r="4.3"/><circle cx="200.4" cy="699.3" r="4.3"/><circle cx="233.4" cy="699.6" r="4.3"/><circle cx="266.4" cy="699.9" r="4.3"/><circle cx="299.4" cy="699.9" r="4.3"/><circle cx="332.4" cy="699.9" r="4.3"/><circle cx="365.4" cy="699.7" r="4.3"/><circle cx="398.4" cy="699.3" r="4.3"/><circle cx="431.4" cy="698.7" r="4.3"/><circle cx="464.4" cy="698.1" r="4.3"/><circle cx="497.4" cy="697.2" r="4.3"/><circle cx="266.2" cy="738.2" r="4.3"/><circle cx="365.6" cy="738" r="4.3"/><circle cx="771.7" cy="258.3" r="4.3"/><circle cx="803.3" cy="257.3" r="4.3"/><circle cx="833.3" cy="256.7" r="4.3"/><circle cx="806.7" cy="295" r="4.3"/><circle cx="778.3" cy="336" r="4.3"/><circle cx="691.7" cy="345" r="4.3"/><circle cx="716.7" cy="379.3" r="4.3"/><circle cx="686.7" cy="418" r="4.3"/><circle cx="718.3" cy="417" r="4.3"/><circle cx="750" cy="416" r="4.3"/><circle cx="688.3" cy="458.3" r="4.3"/><circle cx="690" cy="496.7" r="4.3"/><circle cx="660" cy="536.7" r="4.3"/><circle cx="691.7" cy="535" r="4.3"/><circle cx="173" cy="355" r="4.3"/></g>
<text class="k" x="710.7" y="317.4" font-size="40" textLength="91.4" lengthAdjust="spacingAndGlyphs">Kabul</text>
<text x="694" y="354" font-size="30" text-anchor="middle" style="font-family:'DejaVu Sans',sans-serif">★</text>
</g>
<g transform="translate(1102,760)">
<use href="#ol" fill="none" stroke="#cdcdd2" stroke-width="8.5" stroke-linejoin="round"/>
<g clip-path="url(#af)">
<rect x="100" y="0" width="960" height="770" fill="#80b008"/>
<polygon points="769.5,13.6 799.7,11.5 802.7,49.7 772.3,51.7" fill="#046408" stroke="#046408" stroke-width="0.8"/>
<polygon points="772.3,51.7 802.7,49.7 833.1,47.4 836.2,85.6 805.7,87.8 775.1,89.9" fill="#ffff00" stroke="#ffff00" stroke-width="0.8"/>
<polygon points="683.3,95.4 713.9,93.7 744.5,91.8 747.1,130 716.4,131.9 685.6,133.6" fill="#046408" stroke="#046408" stroke-width="0.8"/>
<polygon points="775.1,89.9 805.7,87.8 836.2,85.6 839.4,123.7 808.6,125.9 777.9,128" fill="#ffa000" stroke="#ffa000" stroke-width="0.8"/>
<polygon points="866.8,83.2 897.4,80.7 928,78.1 958.6,75.3 989.1,72.4 1019.7,69.4 1024,107.3 993.2,110.4 962.4,113.3 931.7,116.1 900.9,118.7 870.2,121.3" fill="#ff2a00" stroke="#ff2a00" stroke-width="0.8"/>
<polygon points="439.5,142.7 470.3,142 471.3,180.3 440.3,181" fill="#ffff00" stroke="#ffff00" stroke-width="0.8"/>
<polygon points="470.3,142 501,141.2 531.8,140.3 533.1,178.6 502.2,179.5 471.3,180.3" fill="#ffa000" stroke="#ffa000" stroke-width="0.8"/>
<polygon points="531.8,140.3 562.5,139.2 593.3,138 595,176.3 564.1,177.5 533.1,178.6" fill="#ffff00" stroke="#ffff00" stroke-width="0.8"/>
<polygon points="624.1,136.7 654.8,135.2 685.6,133.6 716.4,131.9 718.8,170.1 687.8,171.8 656.9,173.4 626,174.9" fill="#046408" stroke="#046408" stroke-width="0.8"/>
<polygon points="747.1,130 777.9,128 808.6,125.9 839.4,123.7 842.6,161.8 811.6,164 780.7,166.2 749.7,168.2" fill="#ffa000" stroke="#ffa000" stroke-width="0.8"/>
<polygon points="839.4,123.7 870.2,121.3 900.9,118.7 931.7,116.1 962.4,113.3 993.2,110.4 1024,107.3 1028.2,145.2 997.3,148.3 966.3,151.3 935.4,154.1 904.4,156.8 873.5,159.3 842.6,161.8" fill="#ff2a00" stroke="#ff2a00" stroke-width="0.8"/>
<polygon points="378.4,181.9 409.4,181.5 440.3,181 441.1,219.3 410,219.9 378.9,220.3" fill="#ffff00" stroke="#ffff00" stroke-width="0.8"/>
<polygon points="440.3,181 471.3,180.3 502.2,179.5 503.4,217.8 472.3,218.6 441.1,219.3" fill="#ffa000" stroke="#ffa000" stroke-width="0.8"/>
<polygon points="502.2,179.5 533.1,178.6 534.5,216.9 503.4,217.8" fill="#ffff00" stroke="#ffff00" stroke-width="0.8"/>
<polygon points="656.9,173.4 687.8,171.8 718.8,170.1 721.2,208.3 690.1,210 659,211.7" fill="#046408" stroke="#046408" stroke-width="0.8"/>
<polygon points="718.8,170.1 749.7,168.2 752.4,206.4 721.2,208.3" fill="#ffff00" stroke="#ffff00" stroke-width="0.8"/>
<polygon points="749.7,168.2 780.7,166.2 783.5,204.3 752.4,206.4" fill="#ffa000" stroke="#ffa000" stroke-width="0.8"/>
<polygon points="780.7,166.2 811.6,164 842.6,161.8 873.5,159.3 876.8,197.4 845.7,199.9 814.6,202.2 783.5,204.3" fill="#ffff00" stroke="#ffff00" stroke-width="0.8"/>
<polygon points="378.9,220.3 410,219.9 441.1,219.3 441.9,257.6 410.6,258.2 379.3,258.6" fill="#ffff00" stroke="#ffff00" stroke-width="0.8"/>
<polygon points="441.1,219.3 472.3,218.6 473.2,256.9 441.9,257.6" fill="#ffa000" stroke="#ffa000" stroke-width="0.8"/>
<polygon points="534.5,216.9 565.6,215.8 567.2,254 535.9,255.1" fill="#ffff00" stroke="#ffff00" stroke-width="0.8"/>
<polygon points="752.4,206.4 783.5,204.3 814.6,202.2 845.7,199.9 848.9,238 817.6,240.3 786.3,242.5 755,244.6" fill="#ffff00" stroke="#ffff00" stroke-width="0.8"/>
<polygon points="598.5,252.8 629.8,251.4 661.1,249.9 663.1,288.1 631.7,289.7 600.2,291.1" fill="#ffff00" stroke="#ffff00" stroke-width="0.8"/>
<polygon points="692.4,248.3 723.7,246.5 755,244.6 757.6,282.7 726.1,284.7 694.6,286.5" fill="#ffff00" stroke="#ffff00" stroke-width="0.8"/>
<polygon points="755,244.6 786.3,242.5 789.1,280.6 757.6,282.7" fill="#ffa000" stroke="#ffa000" stroke-width="0.8"/>
<polygon points="786.3,242.5 817.6,240.3 820.6,278.4 789.1,280.6" fill="#ffff00" stroke="#ffff00" stroke-width="0.8"/>
<polygon points="817.6,240.3 848.9,238 852,276 820.6,278.4" fill="#ffa000" stroke="#ffa000" stroke-width="0.8"/>
<polygon points="222.4,297 253.9,297.2 285.4,297.4 285.3,335.7 253.6,335.6 221.9,335.3" fill="#ffff00" stroke="#ffff00" stroke-width="0.8"/>
<polygon points="348.3,297.2 379.8,296.9 380.3,335.3 348.6,335.6" fill="#046408" stroke="#046408" stroke-width="0.8"/>
<polygon points="411.3,296.5 442.8,296 443.6,334.3 411.9,334.8" fill="#ffff00" stroke="#ffff00" stroke-width="0.8"/>
<polygon points="474.2,295.3 505.7,294.4 506.9,332.7 475.2,333.6" fill="#046408" stroke="#046408" stroke-width="0.8"/>
<polygon points="505.7,294.4 537.2,293.4 568.7,292.3 600.2,291.1 601.9,329.3 570.2,330.6 538.6,331.7 506.9,332.7" fill="#ffff00" stroke="#ffff00" stroke-width="0.8"/>
<polygon points="600.2,291.1 631.7,289.7 633.6,327.9 601.9,329.3" fill="#ffa000" stroke="#ffa000" stroke-width="0.8"/>
<polygon points="631.7,289.7 663.1,288.1 694.6,286.5 696.9,324.7 665.2,326.4 633.6,327.9" fill="#ffff00" stroke="#ffff00" stroke-width="0.8"/>
<polygon points="694.6,286.5 726.1,284.7 728.5,322.9 696.9,324.7" fill="#ffa000" stroke="#ffa000" stroke-width="0.8"/>
<polygon points="726.1,284.7 757.6,282.7 760.2,320.9 728.5,322.9" fill="#ffff00" stroke="#ffff00" stroke-width="0.8"/>
<polygon points="757.6,282.7 789.1,280.6 820.6,278.4 852,276 855.2,314.1 823.5,316.5 791.9,318.8 760.2,320.9" fill="#ff2a00" stroke="#ff2a00" stroke-width="0.8"/>
<polygon points="127,333.6 158.6,334.3 190.3,334.9 221.9,335.3 221.5,373.6 189.7,373.2 157.8,372.6 126,371.9" fill="#046408" stroke="#046408" stroke-width="0.8"/>
<polygon points="285.3,335.7 316.9,335.7 317,374 285.2,374" fill="#ffff00" stroke="#ffff00" stroke-width="0.8"/>
<polygon points="348.6,335.6 380.3,335.3 380.7,373.6 348.9,373.9" fill="#046408" stroke="#046408" stroke-width="0.8"/>
<polygon points="475.2,333.6 506.9,332.7 508.1,371 476.2,371.9" fill="#046408" stroke="#046408" stroke-width="0.8"/>
<polygon points="538.6,331.7 570.2,330.6 571.8,368.9 539.9,370" fill="#ffff00" stroke="#ffff00" stroke-width="0.8"/>
<polygon points="570.2,330.6 601.9,329.3 633.6,327.9 665.2,326.4 696.9,324.7 699.1,362.9 667.3,364.6 635.5,366.2 603.6,367.6 571.8,368.9" fill="#ffa000" stroke="#ffa000" stroke-width="0.8"/>
<polygon points="696.9,324.7 728.5,322.9 760.2,320.9 762.8,359.1 731,361.1 699.1,362.9" fill="#ffff00" stroke="#ffff00" stroke-width="0.8"/>
<polygon points="760.2,320.9 791.9,318.8 794.7,356.9 762.8,359.1" fill="#ffa000" stroke="#ffa000" stroke-width="0.8"/>
<polygon points="791.9,318.8 823.5,316.5 855.2,314.1 858.4,352.2 826.5,354.7 794.7,356.9" fill="#ff2a00" stroke="#ff2a00" stroke-width="0.8"/>
<polygon points="126,371.9 157.8,372.6 189.7,373.2 221.5,373.6 221.1,412 189,411.5 157,411 125,410.3" fill="#046408" stroke="#046408" stroke-width="0.8"/>
<polygon points="285.2,374 317,374 348.9,373.9 380.7,373.6 381.2,411.9 349.1,412.2 317.1,412.4 285.1,412.4" fill="#046408" stroke="#046408" stroke-width="0.8"/>
<polygon points="412.6,373.2 444.4,372.6 476.2,371.9 508.1,371 509.3,409.3 477.2,410.2 445.2,410.9 413.2,411.5" fill="#046408" stroke="#046408" stroke-width="0.8"/>
<polygon points="571.8,368.9 603.6,367.6 605.3,405.9 573.3,407.2" fill="#ffff00" stroke="#ffff00" stroke-width="0.8"/>
<polygon points="667.3,364.6 699.1,362.9 731,361.1 762.8,359.1 794.7,356.9 797.5,395.1 765.4,397.2 733.4,399.2 701.4,401.1 669.4,402.8" fill="#ffff00" stroke="#ffff00" stroke-width="0.8"/>
<polygon points="189,411.5 221.1,412 220.6,450.3 188.4,449.9" fill="#ffff00" stroke="#ffff00" stroke-width="0.8"/>
<polygon points="253.1,412.2 285.1,412.4 285,450.7 252.8,450.6" fill="#ffff00" stroke="#ffff00" stroke-width="0.8"/>
<polygon points="285.1,412.4 317.1,412.4 317.2,450.7 285,450.7" fill="#046408" stroke="#046408" stroke-width="0.8"/>
<polygon points="381.2,411.9 413.2,411.5 445.2,410.9 446,449.2 413.8,449.8 381.6,450.3" fill="#046408" stroke="#046408" stroke-width="0.8"/>
<polygon points="477.2,410.2 509.3,409.3 510.4,447.6 478.2,448.5" fill="#046408" stroke="#046408" stroke-width="0.8"/>
<polygon points="541.3,408.3 573.3,407.2 605.3,405.9 607.1,444.1 574.8,445.5 542.6,446.6" fill="#046408" stroke="#046408" stroke-width="0.8"/>
<polygon points="637.4,404.4 669.4,402.8 701.4,401.1 733.4,399.2 735.9,437.4 703.7,439.3 671.5,441.1 639.3,442.7" fill="#ffff00" stroke="#ffff00" stroke-width="0.8"/>
<polygon points="733.4,399.2 765.4,397.2 797.5,395.1 800.3,433.2 768.1,435.4 735.9,437.4" fill="#ffa000" stroke="#ffa000" stroke-width="0.8"/>
<polygon points="124,448.6 156.2,449.3 188.4,449.9 220.6,450.3 220.2,488.6 187.8,488.2 155.4,487.6 123,486.9" fill="#ff2a00" stroke="#ff2a00" stroke-width="0.8"/>
<polygon points="220.6,450.3 252.8,450.6 252.5,488.9 220.2,488.6" fill="#ffa000" stroke="#ffa000" stroke-width="0.8"/>
<polygon points="285,450.7 317.2,450.7 349.4,450.6 381.6,450.3 413.8,449.8 446,449.2 446.9,487.6 414.5,488.2 382.1,488.6 349.7,488.9 317.3,489.1 284.9,489.1" fill="#046408" stroke="#046408" stroke-width="0.8"/>
<polygon points="446,449.2 478.2,448.5 479.2,486.8 446.9,487.6" fill="#ffff00" stroke="#ffff00" stroke-width="0.8"/>
<polygon points="510.4,447.6 542.6,446.6 544,484.9 511.6,485.9" fill="#ffff00" stroke="#ffff00" stroke-width="0.8"/>
<polygon points="574.8,445.5 607.1,444.1 608.8,482.4 576.4,483.7" fill="#046408" stroke="#046408" stroke-width="0.8"/>
<polygon points="639.3,442.7 671.5,441.1 673.5,479.3 641.2,480.9" fill="#046408" stroke="#046408" stroke-width="0.8"/>
<polygon points="123,486.9 155.4,487.6 187.8,488.2 220.2,488.6 219.7,527 187.2,526.5 154.6,525.9 122,525.2" fill="#ffa000" stroke="#ffa000" stroke-width="0.8"/>
<polygon points="252.5,488.9 284.9,489.1 284.8,527.4 252.3,527.3" fill="#ffa000" stroke="#ffa000" stroke-width="0.8"/>
<polygon points="284.9,489.1 317.3,489.1 349.7,488.9 382.1,488.6 414.5,488.2 415.1,526.5 382.5,526.9 350,527.2 317.4,527.4 284.8,527.4" fill="#046408" stroke="#046408" stroke-width="0.8"/>
<polygon points="414.5,488.2 446.9,487.6 447.7,525.9 415.1,526.5" fill="#ffff00" stroke="#ffff00" stroke-width="0.8"/>
<polygon points="446.9,487.6 479.2,486.8 480.2,525.1 447.7,525.9" fill="#ffa000" stroke="#ffa000" stroke-width="0.8"/>
<polygon points="544,484.9 576.4,483.7 577.9,522 545.4,523.2" fill="#ffff00" stroke="#ffff00" stroke-width="0.8"/>
<polygon points="576.4,483.7 608.8,482.4 610.5,520.7 577.9,522" fill="#046408" stroke="#046408" stroke-width="0.8"/>
<polygon points="608.8,482.4 641.2,480.9 643.1,519.2 610.5,520.7" fill="#ffff00" stroke="#ffff00" stroke-width="0.8"/>
<polygon points="673.5,479.3 705.9,477.5 738.3,475.6 740.7,513.8 708.2,515.8 675.6,517.5" fill="#ffff00" stroke="#ffff00" stroke-width="0.8"/>
<polygon points="122,525.2 154.6,525.9 187.2,526.5 219.7,527 219.3,565.3 186.5,564.9 153.8,564.3 121,563.5" fill="#046408" stroke="#046408" stroke-width="0.8"/>
<polygon points="219.7,527 252.3,527.3 252,565.6 219.3,565.3" fill="#ffa000" stroke="#ffa000" stroke-width="0.8"/>
<polygon points="284.8,527.4 317.4,527.4 317.5,565.7 284.8,565.7" fill="#ffa000" stroke="#ffa000" stroke-width="0.8"/>
<polygon points="317.4,527.4 350,527.2 382.5,526.9 415.1,526.5 415.7,564.8 383,565.3 350.3,565.6 317.5,565.7" fill="#046408" stroke="#046408" stroke-width="0.8"/>
<polygon points="415.1,526.5 447.7,525.9 448.5,564.2 415.7,564.8" fill="#ffff00" stroke="#ffff00" stroke-width="0.8"/>
<polygon points="447.7,525.9 480.2,525.1 512.8,524.3 545.4,523.2 546.7,561.5 514,562.6 481.2,563.5 448.5,564.2" fill="#ffa000" stroke="#ffa000" stroke-width="0.8"/>
<polygon points="577.9,522 610.5,520.7 612.2,558.9 579.5,560.3" fill="#046408" stroke="#046408" stroke-width="0.8"/>
<polygon points="610.5,520.7 643.1,519.2 675.6,517.5 708.2,515.8 740.7,513.8 743.2,552 710.4,554 677.7,555.8 644.9,557.4 612.2,558.9" fill="#ffff00" stroke="#ffff00" stroke-width="0.8"/>
<polygon points="219.3,565.3 252,565.6 251.8,603.9 218.8,603.6" fill="#ffff00" stroke="#ffff00" stroke-width="0.8"/>
<polygon points="252,565.6 284.8,565.7 317.5,565.7 317.6,604.1 284.7,604.1 251.8,603.9" fill="#ffa000" stroke="#ffa000" stroke-width="0.8"/>
<polygon points="317.5,565.7 350.3,565.6 350.5,603.9 317.6,604.1" fill="#046408" stroke="#046408" stroke-width="0.8"/>
<polygon points="350.3,565.6 383,565.3 383.5,603.6 350.5,603.9" fill="#ffff00" stroke="#ffff00" stroke-width="0.8"/>
<polygon points="415.7,564.8 448.5,564.2 449.3,602.5 416.4,603.2" fill="#ffa000" stroke="#ffa000" stroke-width="0.8"/>
<polygon points="448.5,564.2 481.2,563.5 514,562.6 515.2,600.9 482.2,601.8 449.3,602.5" fill="#ff2a00" stroke="#ff2a00" stroke-width="0.8"/>
<polygon points="514,562.6 546.7,561.5 579.5,560.3 581,598.6 548.1,599.8 515.2,600.9" fill="#ffa000" stroke="#ffa000" stroke-width="0.8"/>
<polygon points="579.5,560.3 612.2,558.9 644.9,557.4 677.7,555.8 679.8,594 646.8,595.7 613.9,597.2 581,598.6" fill="#ffff00" stroke="#ffff00" stroke-width="0.8"/>
<polygon points="185.9,603.2 218.8,603.6 251.8,603.9 251.5,642.3 218.4,642 185.3,641.5" fill="#046408" stroke="#046408" stroke-width="0.8"/>
<polygon points="284.7,604.1 317.6,604.1 317.7,642.4 284.6,642.4" fill="#ffa000" stroke="#ffa000" stroke-width="0.8"/>
<polygon points="317.6,604.1 350.5,603.9 350.8,642.3 317.7,642.4" fill="#046408" stroke="#046408" stroke-width="0.8"/>
<polygon points="350.5,603.9 383.5,603.6 416.4,603.2 417,641.5 383.9,641.9 350.8,642.3" fill="#ffff00" stroke="#ffff00" stroke-width="0.8"/>
<polygon points="416.4,603.2 449.3,602.5 482.2,601.8 515.2,600.9 516.3,639.2 483.2,640.1 450.1,640.9 417,641.5" fill="#ff2a00" stroke="#ff2a00" stroke-width="0.8"/>
<polygon points="515.2,600.9 548.1,599.8 581,598.6 582.5,636.9 549.4,638.1 516.3,639.2" fill="#ffa000" stroke="#ffa000" stroke-width="0.8"/>
<polygon points="251.5,642.3 284.6,642.4 284.5,680.8 251.2,680.6" fill="#ffa000" stroke="#ffa000" stroke-width="0.8"/>
<polygon points="317.7,642.4 350.8,642.3 351.1,680.6 317.8,680.8" fill="#ff2a00" stroke="#ff2a00" stroke-width="0.8"/>
<polygon points="350.8,642.3 383.9,641.9 384.4,680.3 351.1,680.6" fill="#ffa000" stroke="#ffa000" stroke-width="0.8"/>
<polygon points="383.9,641.9 417,641.5 450.1,640.9 450.9,679.2 417.7,679.8 384.4,680.3" fill="#ff2a00" stroke="#ff2a00" stroke-width="0.8"/>
<polygon points="450.1,640.9 483.2,640.1 516.3,639.2 549.4,638.1 550.8,676.4 517.5,677.5 484.2,678.4 450.9,679.2" fill="#ffa000" stroke="#ffa000" stroke-width="0.8"/>
<polygon points="118.1,678.5 151.4,679.2 184.7,679.8 184,718.2 150.6,717.6 117.1,716.8" fill="#046408" stroke="#046408" stroke-width="0.8"/>
<polygon points="184.7,679.8 217.9,680.3 251.2,680.6 251,719 217.5,718.6 184,718.2" fill="#ffff00" stroke="#ffff00" stroke-width="0.8"/>
<polygon points="251.2,680.6 284.5,680.8 317.8,680.8 351.1,680.6 384.4,680.3 417.7,679.8 450.9,679.2 451.8,717.5 418.3,718.1 384.8,718.6 351.4,718.9 317.9,719.1 284.4,719.1 251,719" fill="#ff2a00" stroke="#ff2a00" stroke-width="0.8"/>
<polygon points="450.9,679.2 484.2,678.4 517.5,677.5 550.8,676.4 552.1,714.7 518.7,715.8 485.2,716.7 451.8,717.5" fill="#ffa000" stroke="#ffa000" stroke-width="0.8"/>
<polygon points="150.6,717.6 184,718.2 217.5,718.6 217.1,757 183.4,756.5 149.8,755.9" fill="#ffff00" stroke="#ffff00" stroke-width="0.8"/>
<polygon points="217.5,718.6 251,719 250.7,757.3 217.1,757" fill="#ff2a00" stroke="#ff2a00" stroke-width="0.8"/>
<polygon points="251,719 284.4,719.1 284.3,757.4 250.7,757.3" fill="#ffa000" stroke="#ffa000" stroke-width="0.8"/>
<polygon points="284.4,719.1 317.9,719.1 318,757.4 284.3,757.4" fill="#ff2a00" stroke="#ff2a00" stroke-width="0.8"/>
<polygon points="317.9,719.1 351.4,718.9 351.6,757.3 318,757.4" fill="#ffa000" stroke="#ffa000" stroke-width="0.8"/>
<polygon points="351.4,718.9 384.8,718.6 418.3,718.1 451.8,717.5 485.2,716.7 486.2,755 452.6,755.8 418.9,756.5 385.3,757 351.6,757.3" fill="#ff2a00" stroke="#ff2a00" stroke-width="0.8"/>
<polygon points="116.1,755.1 149.8,755.9 183.4,756.5 217.1,757 250.7,757.3 284.3,757.4 318,757.4 351.6,757.3 385.3,757 418.9,756.5 452.6,755.8 486.2,755 519.9,754.1 553.5,753 587.2,751.7 620.8,750.3 654.4,748.7 688.1,746.9 721.7,745 755.4,742.9 789,740.7 822.7,738.3 856.3,735.8 890,733.1 923.6,730.2 957.2,727.2 990.9,724 1024.5,720.7 1058.2,717.2 1091.8,713.6 1125.5,709.8 1129.9,747.6 1096.1,751.4 1062.2,755.1 1028.4,758.7 994.6,762 960.8,765.2 926.9,768.3 893.1,771.2 859.3,773.9 825.5,776.5 791.6,778.9 757.8,781.1 724,783.2 690.2,785.1 656.3,786.9 622.5,788.5 588.7,790 554.9,791.3 521,792.4 487.2,793.3 453.4,794.2 419.6,794.8 385.7,795.3 351.9,795.6 318.1,795.8 284.3,795.8 250.4,795.6 216.6,795.3 182.8,794.8 149,794.2 115.1,793.4" fill="#ff2a00" stroke="#ff2a00" stroke-width="0.8"/>
<use href="#pv"/>
<polygon points="836,166 860,156 904,131 911,142 863,166 840,181" fill="#e6e6e6"/>
<polygon points="1003,94 1018,91 1033,93 1036,98 1022,101 1006,103" fill="#e0e0e0"/>
</g>
<use href="#ol" fill="none" stroke="#bcb8b8" stroke-width="2.6" stroke-opacity="0.75" stroke-linejoin="round"/>
<g fill="#1a0500"><circle cx="173" cy="355" r="4.3"/><circle cx="491.6" cy="351.7" r="4.3"/><circle cx="459.9" cy="391.7" r="4.3"/><circle cx="468.2" cy="696.9" r="4.3"/><circle cx="752" cy="416" r="4.3"/><circle cx="917.2" cy="128.4" r="4.3"/><circle cx="948.9" cy="123.4" r="4.3"/><circle cx="980.6" cy="123.4" r="4.3"/><circle cx="670.4" cy="148.4" r="4.3"/><circle cx="702" cy="148.4" r="4.3"/></g>
<text class="k" x="710.7" y="317.4" font-size="40" textLength="91.4" lengthAdjust="spacingAndGlyphs">Kabul</text>
<text x="694" y="354" font-size="30" text-anchor="middle" style="font-family:'DejaVu Sans',sans-serif">★</text>
</g>
<g transform="translate(0,1520)">
<use href="#ol" fill="none" stroke="#cdcdd2" stroke-width="8.5" stroke-linejoin="round"/>
<g clip-path="url(#af)">
<rect x="100" y="0" width="960" height="770" fill="#ffe000"/>
<polygon points="730.1,30.1 760.4,28.2 790.7,26.1 820.9,24 824,62.1 793.6,64.3 763.1,66.3 732.6,68.2" fill="#ff8c10" stroke="#ff8c10" stroke-width="0.8"/>
<polygon points="732.6,68.2 763.1,66.3 793.6,64.3 824,62.1 827.1,100.2 796.5,102.4 765.8,104.5 735.2,106.4" fill="#ff8c10" stroke="#ff8c10" stroke-width="0.8"/>
<polygon points="490,117.2 520.7,116.3 551.3,115.3 552.8,153.5 522,154.6 491.1,155.5" fill="#c8e010" stroke="#c8e010" stroke-width="0.8"/>
<polygon points="612.6,112.8 643.3,111.4 673.9,109.9 704.5,108.2 706.9,146.4 676.1,148.1 645.3,149.7 614.4,151.1" fill="#ff2000" stroke="#ff2000" stroke-width="0.8"/>
<polygon points="704.5,108.2 735.2,106.4 765.8,104.5 768.6,142.7 737.8,144.6 706.9,146.4" fill="#ff8c10" stroke="#ff8c10" stroke-width="0.8"/>
<polygon points="888.4,95.4 919.1,92.9 949.7,90.1 980.4,87.3 1011,84.3 1015.2,122.2 984.4,125.2 953.5,128.1 922.7,130.9 891.9,133.5" fill="#046410" stroke="#046410" stroke-width="0.8"/>
<polygon points="614.4,151.1 645.3,149.7 676.1,148.1 706.9,146.4 709.3,184.6 678.3,186.3 647.3,187.9 616.3,189.4" fill="#ff2000" stroke="#ff2000" stroke-width="0.8"/>
<polygon points="706.9,146.4 737.8,144.6 740.3,182.8 709.3,184.6" fill="#ff8c10" stroke="#ff8c10" stroke-width="0.8"/>
<polygon points="768.6,142.7 799.4,140.6 830.2,138.3 833.3,176.4 802.3,178.7 771.3,180.8" fill="#c8e010" stroke="#c8e010" stroke-width="0.8"/>
<polygon points="861.1,136 891.9,133.5 922.7,130.9 953.5,128.1 984.4,125.2 1015.2,122.2 1019.4,160.1 988.4,163.2 957.4,166.1 926.4,168.9 895.4,171.5 864.3,174.1" fill="#046410" stroke="#046410" stroke-width="0.8"/>
<polygon points="399.2,195.7 430.2,195.2 431,233.5 399.8,234" fill="#ff8c10" stroke="#ff8c10" stroke-width="0.8"/>
<polygon points="554.3,191.8 585.3,190.7 616.3,189.4 618.1,227.6 586.9,228.9 555.7,230.1" fill="#ff8c10" stroke="#ff8c10" stroke-width="0.8"/>
<polygon points="616.3,189.4 647.3,187.9 678.3,186.3 709.3,184.6 711.7,222.8 680.5,224.6 649.3,226.2 618.1,227.6" fill="#ff2000" stroke="#ff2000" stroke-width="0.8"/>
<polygon points="709.3,184.6 740.3,182.8 771.3,180.8 774.1,219 742.9,221 711.7,222.8" fill="#ff8c10" stroke="#ff8c10" stroke-width="0.8"/>
<polygon points="368.6,234.4 399.8,234 400.4,272.3 369,272.7" fill="#ff8c10" stroke="#ff8c10" stroke-width="0.8"/>
<polygon points="524.6,231.2 555.7,230.1 586.9,228.9 618.1,227.6 649.3,226.2 680.5,224.6 711.7,222.8 742.9,221 745.4,259.2 714.1,261 682.7,262.8 651.3,264.4 620,265.9 588.6,267.2 557.2,268.4 525.9,269.5" fill="#ff8c10" stroke="#ff8c10" stroke-width="0.8"/>
<polygon points="180.8,272 212.2,272.5 211.7,310.8 180.1,310.4" fill="#ff8c10" stroke="#ff8c10" stroke-width="0.8"/>
<polygon points="337.6,272.9 369,272.7 400.4,272.3 431.7,271.8 432.5,310.2 401,310.7 369.4,311 337.9,311.3" fill="#ff8c10" stroke="#ff8c10" stroke-width="0.8"/>
<polygon points="745.4,259.2 776.8,257.1 808.2,255 839.5,252.7 842.6,290.8 811.1,293.1 779.5,295.3 748,297.3" fill="#c8e010" stroke="#c8e010" stroke-width="0.8"/>
<polygon points="369.4,311 401,310.7 401.5,349 369.8,349.4" fill="#ff8c10" stroke="#ff8c10" stroke-width="0.8"/>
<polygon points="748,297.3 779.5,295.3 811.1,293.1 814,331.2 782.3,333.4 750.5,335.5" fill="#046410" stroke="#046410" stroke-width="0.8"/>
<polygon points="811.1,293.1 842.6,290.8 845.7,328.9 814,331.2" fill="#c8e010" stroke="#c8e010" stroke-width="0.8"/>
<polygon points="147.7,348.1 179.4,348.7 178.7,387 146.8,386.4" fill="#ff8c10" stroke="#ff8c10" stroke-width="0.8"/>
<polygon points="560.2,345 591.9,343.8 593.6,382 561.7,383.3" fill="#c8e010" stroke="#c8e010" stroke-width="0.8"/>
<polygon points="687.1,339.2 718.8,337.4 750.5,335.5 753.1,373.7 721.2,375.6 689.3,377.5" fill="#ff8c10" stroke="#ff8c10" stroke-width="0.8"/>
<polygon points="782.3,333.4 814,331.2 816.9,369.4 785,371.6" fill="#5a9a10" stroke="#5a9a10" stroke-width="0.8"/>
<polygon points="593.6,382 625.5,380.6 627.3,418.9 595.2,420.3" fill="#c8e010" stroke="#c8e010" stroke-width="0.8"/>
<polygon points="689.3,377.5 721.2,375.6 753.1,373.7 755.7,411.9 723.6,413.8 691.5,415.7" fill="#ff8c10" stroke="#ff8c10" stroke-width="0.8"/>
<polygon points="146,424.7 178.1,425.4 210.2,425.8 242.2,426.2 274.3,426.4 274.2,464.7 241.9,464.5 209.6,464.2 177.4,463.7 145.1,463.1" fill="#c8e010" stroke="#c8e010" stroke-width="0.8"/>
<polygon points="306.4,426.4 338.5,426.3 370.6,426.1 402.7,425.7 403.3,464 371,464.4 338.7,464.6 306.5,464.7" fill="#c8e010" stroke="#c8e010" stroke-width="0.8"/>
<polygon points="691.5,415.7 723.6,413.8 726,452 693.7,453.9" fill="#ff8c10" stroke="#ff8c10" stroke-width="0.8"/>
<polygon points="145.1,463.1 177.4,463.7 209.6,464.2 209.1,502.5 176.7,502 144.2,501.4" fill="#c8e010" stroke="#c8e010" stroke-width="0.8"/>
<polygon points="306.5,464.7 338.7,464.6 371,464.4 403.3,464 435.5,463.5 467.8,462.8 500.1,461.9 501.2,500.2 468.7,501.1 436.3,501.8 403.8,502.3 371.4,502.7 338.9,503 306.5,503.1" fill="#c8e010" stroke="#c8e010" stroke-width="0.8"/>
<polygon points="241.6,502.8 274,503 273.9,541.4 241.3,541.2" fill="#ff8c10" stroke="#ff8c10" stroke-width="0.8"/>
<polygon points="306.5,503.1 338.9,503 371.4,502.7 403.8,502.3 436.3,501.8 468.7,501.1 501.2,500.2 502.3,538.6 469.7,539.4 437,540.1 404.4,540.7 371.8,541.1 339.2,541.3 306.5,541.4" fill="#c8e010" stroke="#c8e010" stroke-width="0.8"/>
<polygon points="143.4,539.7 176,540.3 208.6,540.8 241.3,541.2 273.9,541.4 273.8,579.7 240.9,579.5 208.1,579.2 175.3,578.7 142.5,578" fill="#ff8c10" stroke="#ff8c10" stroke-width="0.8"/>
<polygon points="306.5,541.4 339.2,541.3 371.8,541.1 404.4,540.7 437,540.1 469.7,539.4 502.3,538.6 534.9,537.6 567.6,536.4 600.2,535.1 601.9,573.4 569,574.7 536.2,575.9 503.4,576.9 470.6,577.7 437.8,578.4 405,579 372.2,579.4 339.4,579.7 306.6,579.8" fill="#c8e010" stroke="#c8e010" stroke-width="0.8"/>
<polygon points="208.1,579.2 240.9,579.5 273.8,579.7 273.6,618.1 240.6,617.9 207.6,617.5" fill="#ff8c10" stroke="#ff8c10" stroke-width="0.8"/>
<polygon points="306.6,579.8 339.4,579.7 372.2,579.4 405,579 437.8,578.4 470.6,577.7 503.4,576.9 536.2,575.9 569,574.7 570.5,613 537.5,614.2 504.5,615.2 471.5,616 438.6,616.8 405.6,617.3 372.6,617.7 339.6,618 306.6,618.1" fill="#c8e010" stroke="#c8e010" stroke-width="0.8"/>
<polygon points="174.6,617 207.6,617.5 240.6,617.9 273.6,618.1 273.5,656.4 240.3,656.2 207.1,655.8 174,655.3" fill="#ff8c10" stroke="#ff8c10" stroke-width="0.8"/>
<polygon points="306.6,618.1 339.6,618 339.8,656.3 306.6,656.4" fill="#c8e010" stroke="#c8e010" stroke-width="0.8"/>
<polygon points="339.6,618 372.6,617.7 373,656.1 339.8,656.3" fill="#5a9a10" stroke="#5a9a10" stroke-width="0.8"/>
<polygon points="372.6,617.7 405.6,617.3 438.6,616.8 471.5,616 504.5,615.2 505.7,653.5 472.5,654.4 439.3,655.1 406.1,655.7 373,656.1" fill="#c8e010" stroke="#c8e010" stroke-width="0.8"/>
<polygon points="504.5,615.2 537.5,614.2 538.8,652.4 505.7,653.5" fill="#5a9a10" stroke="#5a9a10" stroke-width="0.8"/>
<polygon points="174,655.3 207.1,655.8 240.3,656.2 273.5,656.4 273.3,694.7 240,694.5 206.6,694.2 173.3,693.7" fill="#ff8c10" stroke="#ff8c10" stroke-width="0.8"/>
<polygon points="306.6,656.4 339.8,656.3 373,656.1 406.1,655.7 439.3,655.1 440.1,693.4 406.7,694 373.4,694.4 340,694.7 306.7,694.8" fill="#c8e010" stroke="#c8e010" stroke-width="0.8"/>
<polygon points="439.3,655.1 472.5,654.4 505.7,653.5 538.8,652.4 540.1,690.7 506.8,691.8 473.4,692.7 440.1,693.4" fill="#5a9a10" stroke="#5a9a10" stroke-width="0.8"/>
<polygon points="139.9,693 173.3,693.7 206.6,694.2 240,694.5 273.3,694.7 306.7,694.8 306.7,733.1 273.2,733.1 239.6,732.9 206.1,732.5 172.6,732 139.1,731.3" fill="#ff8c10" stroke="#ff8c10" stroke-width="0.8"/>
<polygon points="340,694.7 373.4,694.4 406.7,694 440.1,693.4 440.8,731.7 407.3,732.3 373.8,732.7 340.2,733" fill="#c8e010" stroke="#c8e010" stroke-width="0.8"/>
<polygon points="440.1,693.4 473.4,692.7 474.4,731 440.8,731.7" fill="#5a9a10" stroke="#5a9a10" stroke-width="0.8"/>
<polygon points="473.4,692.7 506.8,691.8 540.1,690.7 541.4,729 507.9,730.1 474.4,731" fill="#046410" stroke="#046410" stroke-width="0.8"/>
<polygon points="206.1,732.5 239.6,732.9 273.2,733.1 306.7,733.1 306.7,771.5 273,771.4 239.3,771.2 205.6,770.8" fill="#ff8c10" stroke="#ff8c10" stroke-width="0.8"/>
<polygon points="340.2,733 373.8,732.7 407.3,732.3 440.8,731.7 441.6,770.1 407.9,770.6 374.2,771.1 340.5,771.3" fill="#c8e010" stroke="#c8e010" stroke-width="0.8"/>
<polygon points="440.8,731.7 474.4,731 507.9,730.1 509,768.4 475.3,769.3 441.6,770.1" fill="#046410" stroke="#046410" stroke-width="0.8"/>
<polygon points="205.6,770.8 239.3,771.2 273,771.4 306.7,771.5 306.8,809.8 272.9,809.7 239,809.5 205.1,809.2" fill="#ff8c10" stroke="#ff8c10" stroke-width="0.8"/>
<polygon points="340.5,771.3 374.2,771.1 407.9,770.6 441.6,770.1 442.3,808.4 408.5,809 374.6,809.4 340.7,809.7" fill="#c8e010" stroke="#c8e010" stroke-width="0.8"/>
<use href="#pv"/>
<polygon points="836,166 860,156 904,131 911,142 863,166 840,181" fill="#e6e6e6"/>
<polygon points="1003,94 1018,91 1033,93 1036,98 1022,101 1006,103" fill="#e0e0e0"/>
</g>
<use href="#ol" fill="none" stroke="#bcb8b8" stroke-width="2.6" stroke-opacity="0.75" stroke-linejoin="round"/>
<g fill="#1a0500"><circle cx="668" cy="148.3" r="4.3"/><circle cx="701.3" cy="146.7" r="4.3"/><circle cx="733" cy="145" r="4.3"/><circle cx="673" cy="186.7" r="4.3"/><circle cx="704.7" cy="185" r="4.3"/><circle cx="736.3" cy="183.3" r="4.3"/><circle cx="501.7" cy="695" r="4.3"/></g>
<text class="k" x="710.7" y="317.4" font-size="40" textLength="91.4" lengthAdjust="spacingAndGlyphs">Kabul</text>
<text x="694" y="354" font-size="30" text-anchor="middle" style="font-family:'DejaVu Sans',sans-serif">★</text>
</g>
<g transform="translate(1102,1520)">
<use href="#ol" fill="none" stroke="#cdcdd2" stroke-width="8.5" stroke-linejoin="round"/>
<g clip-path="url(#af)">
<rect x="100" y="0" width="960" height="770" fill="#ff6a00"/>
<polygon points="459.4,117.9 490,117.2 520.7,116.3 522,154.6 491.1,155.5 460.3,156.2" fill="#ffcc00" stroke="#ffcc00" stroke-width="0.8"/>
<polygon points="643.3,111.4 673.9,109.9 704.5,108.2 706.9,146.4 676.1,148.1 645.3,149.7" fill="#ff0000" stroke="#ff0000" stroke-width="0.8"/>
<polygon points="765.8,104.5 796.5,102.4 799.4,140.6 768.6,142.7" fill="#ffcc00" stroke="#ffcc00" stroke-width="0.8"/>
<polygon points="888.4,95.4 919.1,92.9 949.7,90.1 980.4,87.3 1011,84.3 1015.2,122.2 984.4,125.2 953.5,128.1 922.7,130.9 891.9,133.5" fill="#38a818" stroke="#38a818" stroke-width="0.8"/>
<polygon points="460.3,156.2 491.1,155.5 522,154.6 523.3,192.9 492.2,193.8 461.2,194.5" fill="#ffcc00" stroke="#ffcc00" stroke-width="0.8"/>
<polygon points="645.3,149.7 676.1,148.1 706.9,146.4 709.3,184.6 678.3,186.3 647.3,187.9" fill="#ff0000" stroke="#ff0000" stroke-width="0.8"/>
<polygon points="861.1,136 891.9,133.5 922.7,130.9 953.5,128.1 984.4,125.2 1015.2,122.2 1019.4,160.1 988.4,163.2 957.4,166.1 926.4,168.9 895.4,171.5 864.3,174.1" fill="#38a818" stroke="#38a818" stroke-width="0.8"/>
<polygon points="399.2,195.7 430.2,195.2 461.2,194.5 492.2,193.8 493.4,232.1 462.2,232.9 431,233.5 399.8,234" fill="#ffcc00" stroke="#ffcc00" stroke-width="0.8"/>
<polygon points="431,233.5 462.2,232.9 463.1,271.2 431.7,271.8" fill="#ffcc00" stroke="#ffcc00" stroke-width="0.8"/>
<polygon points="555.7,230.1 586.9,228.9 618.1,227.6 620,265.9 588.6,267.2 557.2,268.4" fill="#ff0000" stroke="#ff0000" stroke-width="0.8"/>
<polygon points="805.2,216.8 836.4,214.6 839.5,252.7 808.2,255" fill="#ffcc00" stroke="#ffcc00" stroke-width="0.8"/>
<polygon points="525.9,269.5 557.2,268.4 588.6,267.2 620,265.9 651.3,264.4 653.3,302.6 621.8,304.1 590.2,305.5 558.7,306.7 527.1,307.8" fill="#ff0000" stroke="#ff0000" stroke-width="0.8"/>
<polygon points="745.4,259.2 776.8,257.1 808.2,255 839.5,252.7 842.6,290.8 811.1,293.1 779.5,295.3 748,297.3" fill="#ffcc00" stroke="#ffcc00" stroke-width="0.8"/>
<polygon points="527.1,307.8 558.7,306.7 590.2,305.5 621.8,304.1 653.3,302.6 655.4,340.9 623.6,342.4 591.9,343.8 560.2,345 528.4,346.1" fill="#ff0000" stroke="#ff0000" stroke-width="0.8"/>
<polygon points="748,297.3 779.5,295.3 782.3,333.4 750.5,335.5" fill="#ffcc00" stroke="#ffcc00" stroke-width="0.8"/>
<polygon points="779.5,295.3 811.1,293.1 842.6,290.8 845.7,328.9 814,331.2 782.3,333.4" fill="#d2ee08" stroke="#d2ee08" stroke-width="0.8"/>
<polygon points="687.1,339.2 718.8,337.4 721.2,375.6 689.3,377.5" fill="#ff0000" stroke="#ff0000" stroke-width="0.8"/>
<polygon points="782.3,333.4 814,331.2 816.9,369.4 785,371.6" fill="#ffcc00" stroke="#ffcc00" stroke-width="0.8"/>
<polygon points="178.7,387 210.7,387.5 242.6,387.8 274.5,388 306.4,388.1 338.3,388 338.5,426.3 306.4,426.4 274.3,426.4 242.2,426.2 210.2,425.8 178.1,425.4" fill="#ffcc00" stroke="#ffcc00" stroke-width="0.8"/>
<polygon points="657.4,379.1 689.3,377.5 721.2,375.6 753.1,373.7 755.7,411.9 723.6,413.8 691.5,415.7 659.4,417.4" fill="#ff0000" stroke="#ff0000" stroke-width="0.8"/>
<polygon points="146,424.7 178.1,425.4 177.4,463.7 145.1,463.1" fill="#d2ee08" stroke="#d2ee08" stroke-width="0.8"/>
<polygon points="178.1,425.4 210.2,425.8 242.2,426.2 241.9,464.5 209.6,464.2 177.4,463.7" fill="#74c414" stroke="#74c414" stroke-width="0.8"/>
<polygon points="242.2,426.2 274.3,426.4 274.2,464.7 241.9,464.5" fill="#d2ee08" stroke="#d2ee08" stroke-width="0.8"/>
<polygon points="274.3,426.4 306.4,426.4 338.5,426.3 370.6,426.1 402.7,425.7 403.3,464 371,464.4 338.7,464.6 306.5,464.7 274.2,464.7" fill="#ffcc00" stroke="#ffcc00" stroke-width="0.8"/>
<polygon points="691.5,415.7 723.6,413.8 726,452 693.7,453.9" fill="#ff0000" stroke="#ff0000" stroke-width="0.8"/>
<polygon points="145.1,463.1 177.4,463.7 176.7,502 144.2,501.4" fill="#74c414" stroke="#74c414" stroke-width="0.8"/>
<polygon points="177.4,463.7 209.6,464.2 209.1,502.5 176.7,502" fill="#38a818" stroke="#38a818" stroke-width="0.8"/>
<polygon points="209.6,464.2 241.9,464.5 241.6,502.8 209.1,502.5" fill="#74c414" stroke="#74c414" stroke-width="0.8"/>
<polygon points="241.9,464.5 274.2,464.7 274,503 241.6,502.8" fill="#d2ee08" stroke="#d2ee08" stroke-width="0.8"/>
<polygon points="274.2,464.7 306.5,464.7 338.7,464.6 338.9,503 306.5,503.1 274,503" fill="#ffcc00" stroke="#ffcc00" stroke-width="0.8"/>
<polygon points="338.7,464.6 371,464.4 371.4,502.7 338.9,503" fill="#d2ee08" stroke="#d2ee08" stroke-width="0.8"/>
<polygon points="371,464.4 403.3,464 435.5,463.5 467.8,462.8 500.1,461.9 501.2,500.2 468.7,501.1 436.3,501.8 403.8,502.3 371.4,502.7" fill="#ffcc00" stroke="#ffcc00" stroke-width="0.8"/>
<polygon points="144.2,501.4 176.7,502 209.1,502.5 241.6,502.8 241.3,541.2 208.6,540.8 176,540.3 143.4,539.7" fill="#d2ee08" stroke="#d2ee08" stroke-width="0.8"/>
<polygon points="241.6,502.8 274,503 306.5,503.1 306.5,541.4 273.9,541.4 241.3,541.2" fill="#ffcc00" stroke="#ffcc00" stroke-width="0.8"/>
<polygon points="306.5,503.1 338.9,503 371.4,502.7 403.8,502.3 436.3,501.8 437,540.1 404.4,540.7 371.8,541.1 339.2,541.3 306.5,541.4" fill="#d2ee08" stroke="#d2ee08" stroke-width="0.8"/>
<polygon points="436.3,501.8 468.7,501.1 501.2,500.2 533.6,499.3 566.1,498.1 598.5,496.8 631,495.4 663.4,493.8 695.9,492.1 698.1,530.3 665.5,532.1 632.8,533.7 600.2,535.1 567.6,536.4 534.9,537.6 502.3,538.6 469.7,539.4 437,540.1" fill="#ffcc00" stroke="#ffcc00" stroke-width="0.8"/>
<polygon points="273.9,541.4 306.5,541.4 306.6,579.8 273.8,579.7" fill="#ffcc00" stroke="#ffcc00" stroke-width="0.8"/>
<polygon points="306.5,541.4 339.2,541.3 339.4,579.7 306.6,579.8" fill="#d2ee08" stroke="#d2ee08" stroke-width="0.8"/>
<polygon points="339.2,541.3 371.8,541.1 372.2,579.4 339.4,579.7" fill="#74c414" stroke="#74c414" stroke-width="0.8"/>
<polygon points="371.8,541.1 404.4,540.7 437,540.1 469.7,539.4 470.6,577.7 437.8,578.4 405,579 372.2,579.4" fill="#d2ee08" stroke="#d2ee08" stroke-width="0.8"/>
<polygon points="469.7,539.4 502.3,538.6 534.9,537.6 567.6,536.4 600.2,535.1 632.8,533.7 634.7,571.9 601.9,573.4 569,574.7 536.2,575.9 503.4,576.9 470.6,577.7" fill="#ffcc00" stroke="#ffcc00" stroke-width="0.8"/>
<polygon points="208.1,579.2 240.9,579.5 273.8,579.7 273.6,618.1 240.6,617.9 207.6,617.5" fill="#ff0000" stroke="#ff0000" stroke-width="0.8"/>
<polygon points="273.8,579.7 306.6,579.8 306.6,618.1 273.6,618.1" fill="#ffcc00" stroke="#ffcc00" stroke-width="0.8"/>
<polygon points="306.6,579.8 339.4,579.7 372.2,579.4 405,579 405.6,617.3 372.6,617.7 339.6,618 306.6,618.1" fill="#74c414" stroke="#74c414" stroke-width="0.8"/>
<polygon points="405,579 437.8,578.4 470.6,577.7 503.4,576.9 536.2,575.9 569,574.7 601.9,573.4 603.5,611.7 570.5,613 537.5,614.2 504.5,615.2 471.5,616 438.6,616.8 405.6,617.3" fill="#d2ee08" stroke="#d2ee08" stroke-width="0.8"/>
<polygon points="207.6,617.5 240.6,617.9 273.6,618.1 273.5,656.4 240.3,656.2 207.1,655.8" fill="#ff0000" stroke="#ff0000" stroke-width="0.8"/>
<polygon points="273.6,618.1 306.6,618.1 306.6,656.4 273.5,656.4" fill="#ffcc00" stroke="#ffcc00" stroke-width="0.8"/>
<polygon points="306.6,618.1 339.6,618 339.8,656.3 306.6,656.4" fill="#74c414" stroke="#74c414" stroke-width="0.8"/>
<polygon points="339.6,618 372.6,617.7 373,656.1 339.8,656.3" fill="#38a818" stroke="#38a818" stroke-width="0.8"/>
<polygon points="372.6,617.7 405.6,617.3 438.6,616.8 439.3,655.1 406.1,655.7 373,656.1" fill="#74c414" stroke="#74c414" stroke-width="0.8"/>
<polygon points="438.6,616.8 471.5,616 504.5,615.2 537.5,614.2 538.8,652.4 505.7,653.5 472.5,654.4 439.3,655.1" fill="#d2ee08" stroke="#d2ee08" stroke-width="0.8"/>
<polygon points="273.5,656.4 306.6,656.4 306.7,694.8 273.3,694.7" fill="#d2ee08" stroke="#d2ee08" stroke-width="0.8"/>
<polygon points="306.6,656.4 339.8,656.3 340,694.7 306.7,694.8" fill="#74c414" stroke="#74c414" stroke-width="0.8"/>
<polygon points="339.8,656.3 373,656.1 406.1,655.7 406.7,694 373.4,694.4 340,694.7" fill="#38a818" stroke="#38a818" stroke-width="0.8"/>
<polygon points="406.1,655.7 439.3,655.1 472.5,654.4 473.4,692.7 440.1,693.4 406.7,694" fill="#74c414" stroke="#74c414" stroke-width="0.8"/>
<polygon points="472.5,654.4 505.7,653.5 538.8,652.4 540.1,690.7 506.8,691.8 473.4,692.7" fill="#38a818" stroke="#38a818" stroke-width="0.8"/>
<polygon points="139.9,693 173.3,693.7 206.6,694.2 240,694.5 239.6,732.9 206.1,732.5 172.6,732 139.1,731.3" fill="#ffcc00" stroke="#ffcc00" stroke-width="0.8"/>
<polygon points="240,694.5 273.3,694.7 306.7,694.8 306.7,733.1 273.2,733.1 239.6,732.9" fill="#d2ee08" stroke="#d2ee08" stroke-width="0.8"/>
<polygon points="306.7,694.8 340,694.7 373.4,694.4 406.7,694 407.3,732.3 373.8,732.7 340.2,733 306.7,733.1" fill="#74c414" stroke="#74c414" stroke-width="0.8"/>
<polygon points="406.7,694 440.1,693.4 473.4,692.7 506.8,691.8 540.1,690.7 541.4,729 507.9,730.1 474.4,731 440.8,731.7 407.3,732.3" fill="#38a818" stroke="#38a818" stroke-width="0.8"/>
<polygon points="206.1,732.5 239.6,732.9 273.2,733.1 306.7,733.1 306.7,771.5 273,771.4 239.3,771.2 205.6,770.8" fill="#d2ee08" stroke="#d2ee08" stroke-width="0.8"/>
<polygon points="306.7,733.1 340.2,733 373.8,732.7 407.3,732.3 407.9,770.6 374.2,771.1 340.5,771.3 306.7,771.5" fill="#74c414" stroke="#74c414" stroke-width="0.8"/>
<polygon points="407.3,732.3 440.8,731.7 474.4,731 507.9,730.1 509,768.4 475.3,769.3 441.6,770.1 407.9,770.6" fill="#38a818" stroke="#38a818" stroke-width="0.8"/>
<polygon points="205.6,770.8 239.3,771.2 273,771.4 306.7,771.5 306.8,809.8 272.9,809.7 239,809.5 205.1,809.2" fill="#d2ee08" stroke="#d2ee08" stroke-width="0.8"/>
<polygon points="306.7,771.5 340.5,771.3 374.2,771.1 407.9,770.6 408.5,809 374.6,809.4 340.7,809.7 306.8,809.8" fill="#74c414" stroke="#74c414" stroke-width="0.8"/>
<use href="#pv"/>
<polygon points="836,166 860,156 904,131 911,142 863,166 840,181" fill="#e6e6e6"/>
<polygon points="1003,94 1018,91 1033,93 1036,98 1022,101 1006,103" fill="#e0e0e0"/>
</g>
<use href="#ol" fill="none" stroke="#bcb8b8" stroke-width="2.6" stroke-opacity="0.75" stroke-linejoin="round"/>
<g fill="#1a0500"><circle cx="949.2" cy="124" r="4.3"/><circle cx="981" cy="123.4" r="4.3"/><circle cx="671.3" cy="148.3" r="4.3"/><circle cx="701.3" cy="145" r="4.3"/><circle cx="673" cy="188.3" r="4.3"/><circle cx="704.7" cy="185" r="4.3"/><circle cx="736.3" cy="182.7" r="4.3"/></g>
<text class="k" x="710.7" y="317.4" font-size="40" textLength="91.4" lengthAdjust="spacingAndGlyphs">Kabul</text>
<text x="694" y="354" font-size="30" text-anchor="middle" style="font-family:'DejaVu Sans',sans-serif">★</text>
</g>
<g transform="translate(0,2280)">
<use href="#ol" fill="none" stroke="#cdcdd2" stroke-width="8.5" stroke-linejoin="round"/>
<g clip-path="url(#af)">
<rect x="100" y="0" width="960" height="770" fill="#eaffc0"/>
<polygon points="757.6,24.1 787.8,22.1 790.7,60.3 760.3,62.3" fill="#5a9a08" stroke="#5a9a08" stroke-width="0.8"/>
<polygon points="790.7,60.3 821.2,58.1 824.3,96.2 793.6,98.4" fill="#5a9a08" stroke="#5a9a08" stroke-width="0.8"/>
<polygon points="456.7,113.8 487.3,113 518,112.2 548.6,111.2 550.1,149.4 519.3,150.5 488.5,151.3 457.6,152.1" fill="#c8e008" stroke="#c8e008" stroke-width="0.8"/>
<polygon points="793.6,98.4 824.3,96.2 827.3,134.4 796.5,136.6" fill="#c8e008" stroke="#c8e008" stroke-width="0.8"/>
<polygon points="885.5,91.5 916.1,88.9 919.8,126.9 889,129.5" fill="#c8e008" stroke="#c8e008" stroke-width="0.8"/>
<polygon points="916.1,88.9 946.8,86.2 950.6,124.2 919.8,126.9" fill="#ff8c08" stroke="#ff8c08" stroke-width="0.8"/>
<polygon points="946.8,86.2 977.4,83.4 981.4,121.3 950.6,124.2" fill="#c8e008" stroke="#c8e008" stroke-width="0.8"/>
<polygon points="977.4,83.4 1008,80.4 1012.2,118.3 981.4,121.3" fill="#ff8c08" stroke="#ff8c08" stroke-width="0.8"/>
<polygon points="396,153.2 426.8,152.7 457.6,152.1 458.6,190.4 427.6,191 396.6,191.5" fill="#c8e008" stroke="#c8e008" stroke-width="0.8"/>
<polygon points="673.3,144.1 704.1,142.4 734.9,140.6 737.5,178.8 706.5,180.6 675.5,182.3" fill="#ffe000" stroke="#ffe000" stroke-width="0.8"/>
<polygon points="765.7,138.6 796.5,136.6 827.3,134.4 830.4,172.5 799.4,174.7 768.4,176.8" fill="#c8e008" stroke="#c8e008" stroke-width="0.8"/>
<polygon points="458.6,190.4 489.6,189.6 490.7,228 459.5,228.7" fill="#c8e008" stroke="#c8e008" stroke-width="0.8"/>
<polygon points="520.5,188.8 551.5,187.7 582.5,186.6 584.2,224.8 553,226 521.8,227.1" fill="#c8e008" stroke="#c8e008" stroke-width="0.8"/>
<polygon points="706.5,180.6 737.5,178.8 768.4,176.8 771.2,215 740,216.9 708.8,218.8" fill="#c8e008" stroke="#c8e008" stroke-width="0.8"/>
<polygon points="799.4,174.7 830.4,172.5 833.5,210.6 802.3,212.8" fill="#c8e008" stroke="#c8e008" stroke-width="0.8"/>
<polygon points="334.8,230.4 366,230.2 366.4,268.5 335,268.8" fill="#ffe000" stroke="#ffe000" stroke-width="0.8"/>
<polygon points="366,230.2 397.2,229.8 428.3,229.3 429.1,267.7 397.7,268.2 366.4,268.5" fill="#c8e008" stroke="#c8e008" stroke-width="0.8"/>
<polygon points="490.7,228 521.8,227.1 553,226 584.2,224.8 585.8,263.1 554.5,264.3 523.1,265.4 491.8,266.3" fill="#c8e008" stroke="#c8e008" stroke-width="0.8"/>
<polygon points="646.5,222.1 677.7,220.5 679.9,258.7 648.5,260.3" fill="#ffe000" stroke="#ffe000" stroke-width="0.8"/>
<polygon points="708.8,218.8 740,216.9 742.5,255.1 711.2,257" fill="#c8e008" stroke="#c8e008" stroke-width="0.8"/>
<polygon points="771.2,215 802.3,212.8 833.5,210.6 836.6,248.7 805.2,251 773.9,253.1" fill="#c8e008" stroke="#c8e008" stroke-width="0.8"/>
<polygon points="178.3,267.8 209.6,268.3 209.1,306.6 177.6,306.1" fill="#5a9a08" stroke="#5a9a08" stroke-width="0.8"/>
<polygon points="209.6,268.3 241,268.6 240.6,306.9 209.1,306.6" fill="#046410" stroke="#046410" stroke-width="0.8"/>
<polygon points="272.3,268.8 303.7,268.8 303.7,307.2 272.2,307.1" fill="#c8e008" stroke="#c8e008" stroke-width="0.8"/>
<polygon points="335,268.8 366.4,268.5 397.7,268.2 429.1,267.7 460.4,267 491.8,266.3 523.1,265.4 524.4,303.7 492.9,304.6 461.3,305.4 429.8,306 398.3,306.5 366.7,306.9 335.2,307.1" fill="#c8e008" stroke="#c8e008" stroke-width="0.8"/>
<polygon points="585.8,263.1 617.2,261.8 648.5,260.3 650.5,298.6 619,300.1 587.4,301.4" fill="#ffe000" stroke="#ffe000" stroke-width="0.8"/>
<polygon points="177.6,306.1 209.1,306.6 208.6,344.9 176.9,344.5" fill="#5a9a08" stroke="#5a9a08" stroke-width="0.8"/>
<polygon points="209.1,306.6 240.6,306.9 240.3,345.3 208.6,344.9" fill="#046410" stroke="#046410" stroke-width="0.8"/>
<polygon points="240.6,306.9 272.2,307.1 303.7,307.2 303.7,345.5 272,345.5 240.3,345.3" fill="#c8e008" stroke="#c8e008" stroke-width="0.8"/>
<polygon points="303.7,307.2 335.2,307.1 335.4,345.4 303.7,345.5" fill="#5a9a08" stroke="#5a9a08" stroke-width="0.8"/>
<polygon points="335.2,307.1 366.7,306.9 398.3,306.5 429.8,306 461.3,305.4 492.9,304.6 524.4,303.7 555.9,302.6 557.4,340.9 525.7,342 494,342.9 462.3,343.7 430.5,344.3 398.8,344.8 367.1,345.2 335.4,345.4" fill="#c8e008" stroke="#c8e008" stroke-width="0.8"/>
<polygon points="587.4,301.4 619,300.1 650.5,298.6 652.5,336.8 620.8,338.3 589.1,339.7" fill="#ffe000" stroke="#ffe000" stroke-width="0.8"/>
<polygon points="682,297 713.6,295.2 745.1,293.3 747.6,331.5 715.9,333.4 684.2,335.2" fill="#ffe000" stroke="#ffe000" stroke-width="0.8"/>
<polygon points="745.1,293.3 776.6,291.3 808.1,289.1 811.1,327.2 779.3,329.4 747.6,331.5" fill="#c8e008" stroke="#c8e008" stroke-width="0.8"/>
<polygon points="176.9,344.5 208.6,344.9 208.1,383.3 176.2,382.8" fill="#c8e008" stroke="#c8e008" stroke-width="0.8"/>
<polygon points="208.6,344.9 240.3,345.3 240,383.6 208.1,383.3" fill="#046410" stroke="#046410" stroke-width="0.8"/>
<polygon points="240.3,345.3 272,345.5 271.8,383.8 240,383.6" fill="#5a9a08" stroke="#5a9a08" stroke-width="0.8"/>
<polygon points="272,345.5 303.7,345.5 303.7,383.9 271.8,383.8" fill="#046410" stroke="#046410" stroke-width="0.8"/>
<polygon points="303.7,345.5 335.4,345.4 367.1,345.2 398.8,344.8 430.5,344.3 462.3,343.7 494,342.9 525.7,342 557.4,340.9 558.8,379.2 527,380.3 495.1,381.2 463.2,382 431.3,382.7 399.4,383.2 367.5,383.5 335.6,383.8 303.7,383.9" fill="#c8e008" stroke="#c8e008" stroke-width="0.8"/>
<polygon points="684.2,335.2 715.9,333.4 747.6,331.5 750.2,369.7 718.3,371.6 686.4,373.4" fill="#ffe000" stroke="#ffe000" stroke-width="0.8"/>
<polygon points="747.6,331.5 779.3,329.4 782.1,367.6 750.2,369.7" fill="#ff8c08" stroke="#ff8c08" stroke-width="0.8"/>
<polygon points="176.2,382.8 208.1,383.3 207.5,421.6 175.5,421.1" fill="#c8e008" stroke="#c8e008" stroke-width="0.8"/>
<polygon points="208.1,383.3 240,383.6 239.6,421.9 207.5,421.6" fill="#046410" stroke="#046410" stroke-width="0.8"/>
<polygon points="240,383.6 271.8,383.8 271.7,422.1 239.6,421.9" fill="#5a9a08" stroke="#5a9a08" stroke-width="0.8"/>
<polygon points="271.8,383.8 303.7,383.9 303.8,422.2 271.7,422.1" fill="#c8e008" stroke="#c8e008" stroke-width="0.8"/>
<polygon points="303.7,383.9 335.6,383.8 335.8,422.1 303.8,422.2" fill="#5a9a08" stroke="#5a9a08" stroke-width="0.8"/>
<polygon points="335.6,383.8 367.5,383.5 399.4,383.2 431.3,382.7 463.2,382 495.1,381.2 496.2,419.5 464.1,420.3 432,421 400,421.5 367.9,421.9 335.8,422.1" fill="#c8e008" stroke="#c8e008" stroke-width="0.8"/>
<polygon points="495.1,381.2 527,380.3 528.2,418.6 496.2,419.5" fill="#5a9a08" stroke="#5a9a08" stroke-width="0.8"/>
<polygon points="527,380.3 558.8,379.2 560.3,417.5 528.2,418.6" fill="#c8e008" stroke="#c8e008" stroke-width="0.8"/>
<polygon points="590.7,377.9 622.6,376.6 624.4,414.8 592.4,416.2" fill="#c8e008" stroke="#c8e008" stroke-width="0.8"/>
<polygon points="686.4,373.4 718.3,371.6 720.7,409.8 688.6,411.6" fill="#ffe000" stroke="#ffe000" stroke-width="0.8"/>
<polygon points="718.3,371.6 750.2,369.7 752.7,407.9 720.7,409.8" fill="#ff8c08" stroke="#ff8c08" stroke-width="0.8"/>
<polygon points="207.5,421.6 239.6,421.9 271.7,422.1 271.5,460.5 239.3,460.3 207,459.9" fill="#5a9a08" stroke="#5a9a08" stroke-width="0.8"/>
<polygon points="271.7,422.1 303.8,422.2 303.8,460.5 271.5,460.5" fill="#046410" stroke="#046410" stroke-width="0.8"/>
<polygon points="303.8,422.2 335.8,422.1 367.9,421.9 400,421.5 432,421 464.1,420.3 496.2,419.5 497.3,457.8 465,458.6 432.8,459.3 400.5,459.8 368.3,460.2 336,460.4 303.8,460.5" fill="#5a9a08" stroke="#5a9a08" stroke-width="0.8"/>
<polygon points="496.2,419.5 528.2,418.6 529.5,456.9 497.3,457.8" fill="#c8e008" stroke="#c8e008" stroke-width="0.8"/>
<polygon points="528.2,418.6 560.3,417.5 592.4,416.2 594,454.5 561.8,455.7 529.5,456.9" fill="#5a9a08" stroke="#5a9a08" stroke-width="0.8"/>
<polygon points="656.5,413.3 688.6,411.6 720.7,409.8 723,448 690.8,449.9 658.5,451.5" fill="#ffe000" stroke="#ffe000" stroke-width="0.8"/>
<polygon points="720.7,409.8 752.7,407.9 755.3,446 723,448" fill="#ff8c08" stroke="#ff8c08" stroke-width="0.8"/>
<polygon points="207,459.9 239.3,460.3 271.5,460.5 271.4,498.8 238.9,498.6 206.5,498.3" fill="#c8e008" stroke="#c8e008" stroke-width="0.8"/>
<polygon points="271.5,460.5 303.8,460.5 336,460.4 336.2,498.8 303.8,498.9 271.4,498.8" fill="#046410" stroke="#046410" stroke-width="0.8"/>
<polygon points="336,460.4 368.3,460.2 368.7,498.6 336.2,498.8" fill="#5a9a08" stroke="#5a9a08" stroke-width="0.8"/>
<polygon points="368.3,460.2 400.5,459.8 432.8,459.3 465,458.6 465.9,497 433.5,497.6 401.1,498.2 368.7,498.6" fill="#046410" stroke="#046410" stroke-width="0.8"/>
<polygon points="465,458.6 497.3,457.8 529.5,456.9 561.8,455.7 563.2,494 530.8,495.2 498.4,496.1 465.9,497" fill="#5a9a08" stroke="#5a9a08" stroke-width="0.8"/>
<polygon points="561.8,455.7 594,454.5 595.7,492.8 563.2,494" fill="#c8e008" stroke="#c8e008" stroke-width="0.8"/>
<polygon points="658.5,451.5 690.8,449.9 723,448 725.4,486.2 693,488.1 660.5,489.8" fill="#ffe000" stroke="#ffe000" stroke-width="0.8"/>
<polygon points="271.4,498.8 303.8,498.9 336.2,498.8 368.7,498.6 401.1,498.2 433.5,497.6 434.3,536 401.6,536.5 369,536.9 336.4,537.1 303.8,537.2 271.2,537.2" fill="#c8e008" stroke="#c8e008" stroke-width="0.8"/>
<polygon points="433.5,497.6 465.9,497 466.9,535.3 434.3,536" fill="#5a9a08" stroke="#5a9a08" stroke-width="0.8"/>
<polygon points="465.9,497 498.4,496.1 499.5,534.4 466.9,535.3" fill="#046410" stroke="#046410" stroke-width="0.8"/>
<polygon points="498.4,496.1 530.8,495.2 563.2,494 595.7,492.8 597.3,531 564.7,532.3 532.1,533.4 499.5,534.4" fill="#5a9a08" stroke="#5a9a08" stroke-width="0.8"/>
<polygon points="595.7,492.8 628.1,491.3 629.9,529.6 597.3,531" fill="#c8e008" stroke="#c8e008" stroke-width="0.8"/>
<polygon points="173.4,536.1 206,536.6 205.5,574.9 172.7,574.4" fill="#ffe000" stroke="#ffe000" stroke-width="0.8"/>
<polygon points="401.6,536.5 434.3,536 466.9,535.3 499.5,534.4 532.1,533.4 533.4,571.7 500.6,572.7 467.8,573.6 435,574.3 402.2,574.8" fill="#c8e008" stroke="#c8e008" stroke-width="0.8"/>
<polygon points="532.1,533.4 564.7,532.3 566.2,570.6 533.4,571.7" fill="#046410" stroke="#046410" stroke-width="0.8"/>
<polygon points="564.7,532.3 597.3,531 629.9,529.6 662.5,528 664.5,566.3 631.7,567.9 598.9,569.3 566.2,570.6" fill="#c8e008" stroke="#c8e008" stroke-width="0.8"/>
<polygon points="205.5,574.9 238.3,575.3 271,575.5 270.9,613.8 237.9,613.6 204.9,613.3" fill="#ffe000" stroke="#ffe000" stroke-width="0.8"/>
<polygon points="435,574.3 467.8,573.6 500.6,572.7 533.4,571.7 534.6,610 501.7,611.1 468.7,611.9 435.7,612.6" fill="#c8e008" stroke="#c8e008" stroke-width="0.8"/>
<polygon points="533.4,571.7 566.2,570.6 598.9,569.3 600.6,607.6 567.6,608.9 534.6,610" fill="#5a9a08" stroke="#5a9a08" stroke-width="0.8"/>
<polygon points="303.9,613.9 336.8,613.8 337,652.1 303.9,652.2" fill="#ffe000" stroke="#ffe000" stroke-width="0.8"/>
<polygon points="501.7,611.1 534.6,610 535.9,648.3 502.8,649.4" fill="#046410" stroke="#046410" stroke-width="0.8"/>
<polygon points="502.8,649.4 535.9,648.3 537.2,686.6 503.9,687.7" fill="#5a9a08" stroke="#5a9a08" stroke-width="0.8"/>
<polygon points="137.2,688.7 170.6,689.4 203.9,689.9 203.4,728.3 169.9,727.7 136.4,727" fill="#ffe000" stroke="#ffe000" stroke-width="0.8"/>
<polygon points="503.9,687.7 537.2,686.6 538.5,724.9 505,726" fill="#5a9a08" stroke="#5a9a08" stroke-width="0.8"/>
<use href="#pv"/>
<polygon points="836,166 860,156 904,131 911,142 863,166 840,181" fill="#e6e6e6"/>
<polygon points="1003,94 1018,91 1033,93 1036,98 1022,101 1006,103" fill="#e0e0e0"/>
</g>
<use href="#ol" fill="none" stroke="#bcb8b8" stroke-width="2.6" stroke-opacity="0.75" stroke-linejoin="round"/>
<g fill="#1a0500"><circle cx="237" cy="316.3" r="4.3"/><circle cx="268.5" cy="316.5" r="4.3"/><circle cx="425.8" cy="315.4" r="4.3"/><circle cx="236.7" cy="354.6" r="4.3"/><circle cx="299.9" cy="354.9" r="4.3"/><circle cx="331.5" cy="354.8" r="4.3"/><circle cx="458" cy="353.1" r="4.3"/><circle cx="521.2" cy="351.5" r="4.3"/><circle cx="236.3" cy="392.9" r="4.3"/><circle cx="268.1" cy="393.2" r="4.3"/><circle cx="331.6" cy="393.2" r="4.3"/><circle cx="363.4" cy="392.9" r="4.3"/><circle cx="395.2" cy="392.6" r="4.3"/><circle cx="426.9" cy="392.1" r="4.3"/><circle cx="490.5" cy="390.7" r="4.3"/><circle cx="522.3" cy="389.8" r="4.3"/><circle cx="617.6" cy="386.2" r="4.3"/><circle cx="235.9" cy="431.3" r="4.3"/><circle cx="299.8" cy="431.6" r="4.3"/><circle cx="331.7" cy="431.5" r="4.3"/><circle cx="363.6" cy="431.3" r="4.3"/><circle cx="395.6" cy="430.9" r="4.3"/><circle cx="427.5" cy="430.4" r="4.3"/><circle cx="459.4" cy="429.8" r="4.3"/><circle cx="491.3" cy="429" r="4.3"/><circle cx="523.3" cy="428.1" r="4.3"/><circle cx="555.2" cy="427" r="4.3"/><circle cx="587.1" cy="425.8" r="4.3"/><circle cx="267.7" cy="469.8" r="4.3"/><circle cx="299.7" cy="469.9" r="4.3"/><circle cx="331.8" cy="469.8" r="4.3"/><circle cx="363.9" cy="469.6" r="4.3"/><circle cx="396" cy="469.3" r="4.3"/><circle cx="428" cy="468.8" r="4.3"/><circle cx="460.1" cy="468.1" r="4.3"/><circle cx="492.2" cy="467.3" r="4.3"/><circle cx="524.3" cy="466.4" r="4.3"/><circle cx="556.4" cy="465.3" r="4.3"/><circle cx="331.9" cy="508.2" r="4.3"/><circle cx="396.4" cy="507.6" r="4.3"/><circle cx="460.8" cy="506.4" r="4.3"/><circle cx="493.1" cy="505.6" r="4.3"/><circle cx="525.3" cy="504.7" r="4.3"/><circle cx="557.5" cy="503.6" r="4.3"/><circle cx="589.8" cy="502.4" r="4.3"/><circle cx="558.7" cy="541.9" r="4.3"/><circle cx="494.8" cy="582.3" r="4.3"/><circle cx="559.9" cy="580.2" r="4.3"/><circle cx="793" cy="140" r="4.3"/></g>
<text class="k" x="710.7" y="317.4" font-size="40" textLength="91.4" lengthAdjust="spacingAndGlyphs">Kabul</text>
<text x="694" y="354" font-size="30" text-anchor="middle" style="font-family:'DejaVu Sans',sans-serif">★</text>
</g>
<rect x="1894" y="394.8" width="79.79999999999995" height="51.80000000000001" fill="#38a818" stroke="#7d7d6a" stroke-opacity="0.75" stroke-width="4"/>
<rect x="1894" y="459" width="79.79999999999995" height="51" fill="#74c414" stroke="#7d7d6a" stroke-opacity="0.75" stroke-width="4"/>
<rect x="1894" y="522" width="79.79999999999995" height="52.39999999999998" fill="#d2ee08" stroke="#7d7d6a" stroke-opacity="0.75" stroke-width="4"/>
<rect x="1894" y="582.8" width="79.79999999999995" height="51.10000000000002" fill="#ffcc00" stroke="#7d7d6a" stroke-opacity="0.75" stroke-width="4"/>
<rect x="1894" y="647" width="79.79999999999995" height="50.60000000000002" fill="#ff6a00" stroke="#7d7d6a" stroke-opacity="0.75" stroke-width="4"/>
<rect x="1894" y="710" width="79.79999999999995" height="48.299999999999955" fill="#ff0000" stroke="#7d7d6a" stroke-opacity="0.75" stroke-width="4"/>
<rect x="789.9" y="1154" width="79.20000000000005" height="51.40000000000009" fill="#7a0000" stroke="#7d7d6a" stroke-opacity="0.75" stroke-width="4"/>
<rect x="789.9" y="1217.4" width="79.20000000000005" height="51.0" fill="#ff2200" stroke="#7d7d6a" stroke-opacity="0.75" stroke-width="4"/>
<rect x="789.9" y="1281" width="79.20000000000005" height="51.700000000000045" fill="#ffa000" stroke="#7d7d6a" stroke-opacity="0.75" stroke-width="4"/>
<rect x="789.9" y="1344" width="79.20000000000005" height="51.799999999999955" fill="#ffff00" stroke="#7d7d6a" stroke-opacity="0.75" stroke-width="4"/>
<rect x="789.9" y="1405.9" width="79.20000000000005" height="54.09999999999991" fill="#80ae08" stroke="#7d7d6a" stroke-opacity="0.75" stroke-width="4"/>
<rect x="1894" y="1154" width="79.79999999999995" height="51.40000000000009" fill="#ff2a00" stroke="#7d7d6a" stroke-opacity="0.75" stroke-width="4"/>
<rect x="1894" y="1217.4" width="79.79999999999995" height="51.0" fill="#ffa000" stroke="#7d7d6a" stroke-opacity="0.75" stroke-width="4"/>
<rect x="1894" y="1281" width="79.79999999999995" height="51.700000000000045" fill="#ffff00" stroke="#7d7d6a" stroke-opacity="0.75" stroke-width="4"/>
<rect x="1894" y="1344" width="79.79999999999995" height="51.799999999999955" fill="#80b008" stroke="#7d7d6a" stroke-opacity="0.75" stroke-width="4"/>
<rect x="1894" y="1405.9" width="79.79999999999995" height="54.09999999999991" fill="#046408" stroke="#7d7d6a" stroke-opacity="0.75" stroke-width="4"/>
<rect x="789.9" y="1914" width="72.39999999999998" height="47" fill="#046410" stroke="#7d7d6a" stroke-opacity="0.75" stroke-width="4"/>
<rect x="789.9" y="1973" width="72.39999999999998" height="47" fill="#5a9a10" stroke="#7d7d6a" stroke-opacity="0.75" stroke-width="4"/>
<rect x="789.9" y="2030" width="72.39999999999998" height="47" fill="#c8e010" stroke="#7d7d6a" stroke-opacity="0.75" stroke-width="4"/>
<rect x="789.9" y="2089.4" width="72.39999999999998" height="47.5" fill="#ffe000" stroke="#7d7d6a" stroke-opacity="0.75" stroke-width="4"/>
<rect x="789.9" y="2148.9" width="72.39999999999998" height="45.0" fill="#ff8c10" stroke="#7d7d6a" stroke-opacity="0.75" stroke-width="4"/>
<rect x="789.9" y="2204.7" width="72.39999999999998" height="49.30000000000018" fill="#ff2000" stroke="#7d7d6a" stroke-opacity="0.75" stroke-width="4"/>
<rect x="1894" y="1914" width="79.79999999999995" height="51.40000000000009" fill="#38a818" stroke="#7d7d6a" stroke-opacity="0.75" stroke-width="4"/>
<rect x="1894" y="1977.4" width="79.79999999999995" height="51.0" fill="#74c414" stroke="#7d7d6a" stroke-opacity="0.75" stroke-width="4"/>
<rect x="1894" y="2041" width="79.79999999999995" height="50.5" fill="#d2ee08" stroke="#7d7d6a" stroke-opacity="0.75" stroke-width="4"/>
<rect x="1894" y="2102.8" width="79.79999999999995" height="50.59999999999991" fill="#ffcc00" stroke="#7d7d6a" stroke-opacity="0.75" stroke-width="4"/>
<rect x="1894" y="2165.9" width="79.79999999999995" height="50.5" fill="#ff6a00" stroke="#7d7d6a" stroke-opacity="0.75" stroke-width="4"/>
<rect x="1894" y="2229" width="79.79999999999995" height="51.69999999999982" fill="#ff0000" stroke="#7d7d6a" stroke-opacity="0.75" stroke-width="4"/>
<rect x="789.9" y="2674" width="79.20000000000005" height="51.40000000000009" fill="#046410" stroke="#7d7d6a" stroke-opacity="0.75" stroke-width="4"/>
<rect x="789.9" y="2737.4" width="79.20000000000005" height="49.79999999999973" fill="#5a9a08" stroke="#7d7d6a" stroke-opacity="0.75" stroke-width="4"/>
<rect x="789.9" y="2800.9" width="79.20000000000005" height="50.59999999999991" fill="#c8e008" stroke="#7d7d6a" stroke-opacity="0.75" stroke-width="4"/>
<rect x="789.9" y="2862.8" width="79.20000000000005" height="50.59999999999991" fill="#eaffc0" stroke="#7d7d6a" stroke-opacity="0.75" stroke-width="4"/>
<rect x="789.9" y="2925.9" width="79.20000000000005" height="51.79999999999973" fill="#ffe000" stroke="#7d7d6a" stroke-opacity="0.75" stroke-width="4"/>
<rect x="789.9" y="2990.1" width="79.20000000000005" height="50.59999999999991" fill="#ff8c08" stroke="#7d7d6a" stroke-opacity="0.75" stroke-width="4"/>
<text class="t" x="30" y="112.4" font-size="67" letter-spacing="1.5" textLength="704.2" lengthAdjust="spacingAndGlyphs">a) Mean annual temperature</text>
<text class="t" x="1133.6" y="112.4" font-size="67" letter-spacing="1.5" textLength="572.6" lengthAdjust="spacingAndGlyphs">b) Annual precipitation</text>
<text class="t" x="30.6" y="871.3" font-size="67" letter-spacing="1.5" textLength="765.2" lengthAdjust="spacingAndGlyphs">c) Heat Wave Magnitude Index</text>
<text class="t" x="1131.3" y="872.4" font-size="67" letter-spacing="1.5" textLength="549.5" lengthAdjust="spacingAndGlyphs">d) Heavy precipitation</text>
<text class="t" x="30.6" y="1628.8" font-size="67" letter-spacing="1.5" textLength="750" lengthAdjust="spacingAndGlyphs">e) Standardised Precipitation-</text>
<text class="t" x="31.6" y="1702.6" font-size="67" letter-spacing="1.5" textLength="618.9" lengthAdjust="spacingAndGlyphs">Evapotranspiration Index</text>
<text class="t" x="1132.7" y="1631.4" font-size="67" letter-spacing="1.5" textLength="548.1" lengthAdjust="spacingAndGlyphs">f) Spring precipitation</text>
<text class="t" x="30.6" y="2388.8" font-size="67" letter-spacing="1.5" textLength="630.1" lengthAdjust="spacingAndGlyphs">g) Growing season length</text>
<text class="t" x="1210.9" y="2456.4" font-size="67" letter-spacing="1.5" textLength="757.2" lengthAdjust="spacingAndGlyphs">Significant change in grid cell</text>
<text class="t" x="893.4" y="359.5" font-size="65" textLength="118.9" lengthAdjust="spacingAndGlyphs">in °C</text>
<text class="r" x="887.3" y="440.7" font-size="55" textLength="117.8" lengthAdjust="spacingAndGlyphs">&gt; 1.2</text>
<text class="r" x="888.6" y="502.6" font-size="55" textLength="197.8" lengthAdjust="spacingAndGlyphs">0.7 – 1.2</text>
<text class="r" x="888.6" y="566.9" font-size="55" textLength="195.3" lengthAdjust="spacingAndGlyphs">0.3 – 0.7</text>
<text class="r" x="888.6" y="627.5" font-size="55" textLength="154" lengthAdjust="spacingAndGlyphs">0 – 0.3</text>
<text class="r" x="889.8" y="690.6" font-size="55" textLength="72.7" lengthAdjust="spacingAndGlyphs">&lt; 0</text>
<text class="t" x="1991.5" y="360" font-size="65" textLength="114.1" lengthAdjust="spacingAndGlyphs">in %</text>
<text class="r" x="1991.5" y="440" font-size="55" textLength="103.2" lengthAdjust="spacingAndGlyphs">&gt; 20</text>
<text class="r" x="1991.5" y="500.7" font-size="55" textLength="133.4" lengthAdjust="spacingAndGlyphs">0 – 10</text>
<text class="r" x="1991.5" y="566" font-size="55" textLength="139.4" lengthAdjust="spacingAndGlyphs">0 – 10</text>
<text class="r" x="1991.5" y="627" font-size="55" textLength="157.5" lengthAdjust="spacingAndGlyphs">-10 – 0</text>
<text class="r" x="1991.5" y="691" font-size="55" textLength="203.4" lengthAdjust="spacingAndGlyphs">-20 – -10</text>
<text class="r" x="1991.5" y="753" font-size="55" textLength="120" lengthAdjust="spacingAndGlyphs">&lt; -20</text>
<text class="r" x="888.6" y="1200" font-size="55" textLength="66.7" lengthAdjust="spacingAndGlyphs">&gt; 1</text>
<text class="r" x="888.6" y="1262" font-size="55" textLength="147.9" lengthAdjust="spacingAndGlyphs">0.6 – 1</text>
<text class="r" x="888.6" y="1326" font-size="55" textLength="197.5" lengthAdjust="spacingAndGlyphs">0.3 – 0.6</text>
<text class="r" x="888.6" y="1389.3" font-size="55" textLength="154" lengthAdjust="spacingAndGlyphs">0 – 0.3</text>
<text class="r" x="889.8" y="1450" font-size="55" textLength="72.7" lengthAdjust="spacingAndGlyphs">&lt; 0</text>
<text class="t" x="1998.8" y="1126" font-size="65" textLength="112.9" lengthAdjust="spacingAndGlyphs">in %</text>
<text class="r" x="1998.8" y="1200" font-size="55" textLength="102" lengthAdjust="spacingAndGlyphs">&gt; 25</text>
<text class="r" x="1998.8" y="1262" font-size="55" textLength="164.9" lengthAdjust="spacingAndGlyphs">10 – 25</text>
<text class="r" x="1998.8" y="1326" font-size="55" textLength="140.6" lengthAdjust="spacingAndGlyphs">0 – 10</text>
<text class="r" x="1998.8" y="1389" font-size="55" textLength="157.7" lengthAdjust="spacingAndGlyphs">-10 – 0</text>
<text class="r" x="1998.8" y="1450" font-size="55" textLength="121.1" lengthAdjust="spacingAndGlyphs">&lt; -10</text>
<text class="r" x="888.6" y="1958.9" font-size="55" textLength="116.5" lengthAdjust="spacingAndGlyphs">&gt; 0.5</text>
<text class="r" x="888.6" y="2020.7" font-size="55" textLength="217" lengthAdjust="spacingAndGlyphs">0.25 – 0.5</text>
<text class="r" x="888.6" y="2083.8" font-size="55" textLength="183.1" lengthAdjust="spacingAndGlyphs">0 – 0.25</text>
<text class="r" x="888.6" y="2145.7" font-size="55" textLength="200.2" lengthAdjust="spacingAndGlyphs">-0.25 – 0</text>
<text class="r" x="888.6" y="2210" font-size="55" textLength="261.9" lengthAdjust="spacingAndGlyphs">-0.5 – -0.25</text>
<text class="r" x="889.8" y="2273" font-size="55" textLength="132.1" lengthAdjust="spacingAndGlyphs">&lt; -0.5</text>
<text class="t" x="1998.8" y="1872.8" font-size="65" textLength="112.9" lengthAdjust="spacingAndGlyphs">in %</text>
<text class="r" x="1998.8" y="1958.9" font-size="55" textLength="102" lengthAdjust="spacingAndGlyphs">&gt; 20</text>
<text class="r" x="1998.8" y="2022" font-size="55" textLength="133.1" lengthAdjust="spacingAndGlyphs">0 – 10</text>
<text class="r" x="1998.8" y="2086" font-size="55" textLength="140.6" lengthAdjust="spacingAndGlyphs">0 – 10</text>
<text class="r" x="1998.8" y="2146.9" font-size="55" textLength="157.7" lengthAdjust="spacingAndGlyphs">-10 – 0</text>
<text class="r" x="1998.8" y="2210" font-size="55" textLength="203.7" lengthAdjust="spacingAndGlyphs">-20 – -10</text>
<text class="r" x="1998.8" y="2273" font-size="55" textLength="120" lengthAdjust="spacingAndGlyphs">&lt; -20</text>
<text class="t" x="894.6" y="2632.8" font-size="65" textLength="175.9" lengthAdjust="spacingAndGlyphs">in days</text>
<text class="r" x="895.8" y="2718.9" font-size="55" textLength="103.3" lengthAdjust="spacingAndGlyphs">&gt; 15</text>
<text class="r" x="895.8" y="2780.7" font-size="55" textLength="158.9" lengthAdjust="spacingAndGlyphs">10 – 15</text>
<text class="r" x="895.8" y="2843.8" font-size="55" textLength="140.6" lengthAdjust="spacingAndGlyphs">5 – 10</text>
<text class="r" x="895.8" y="2906.9" font-size="55" textLength="111.7" lengthAdjust="spacingAndGlyphs">0 – 5</text>
<text class="r" x="895.8" y="2970" font-size="55" textLength="128.5" lengthAdjust="spacingAndGlyphs">-5 – 0</text>
<text class="r" x="895.8" y="3033" font-size="55" textLength="91.1" lengthAdjust="spacingAndGlyphs">&lt; -5</text>
<rect x="1159" y="2437" width="11" height="14" fill="#111"/>
</svg></body></html>
